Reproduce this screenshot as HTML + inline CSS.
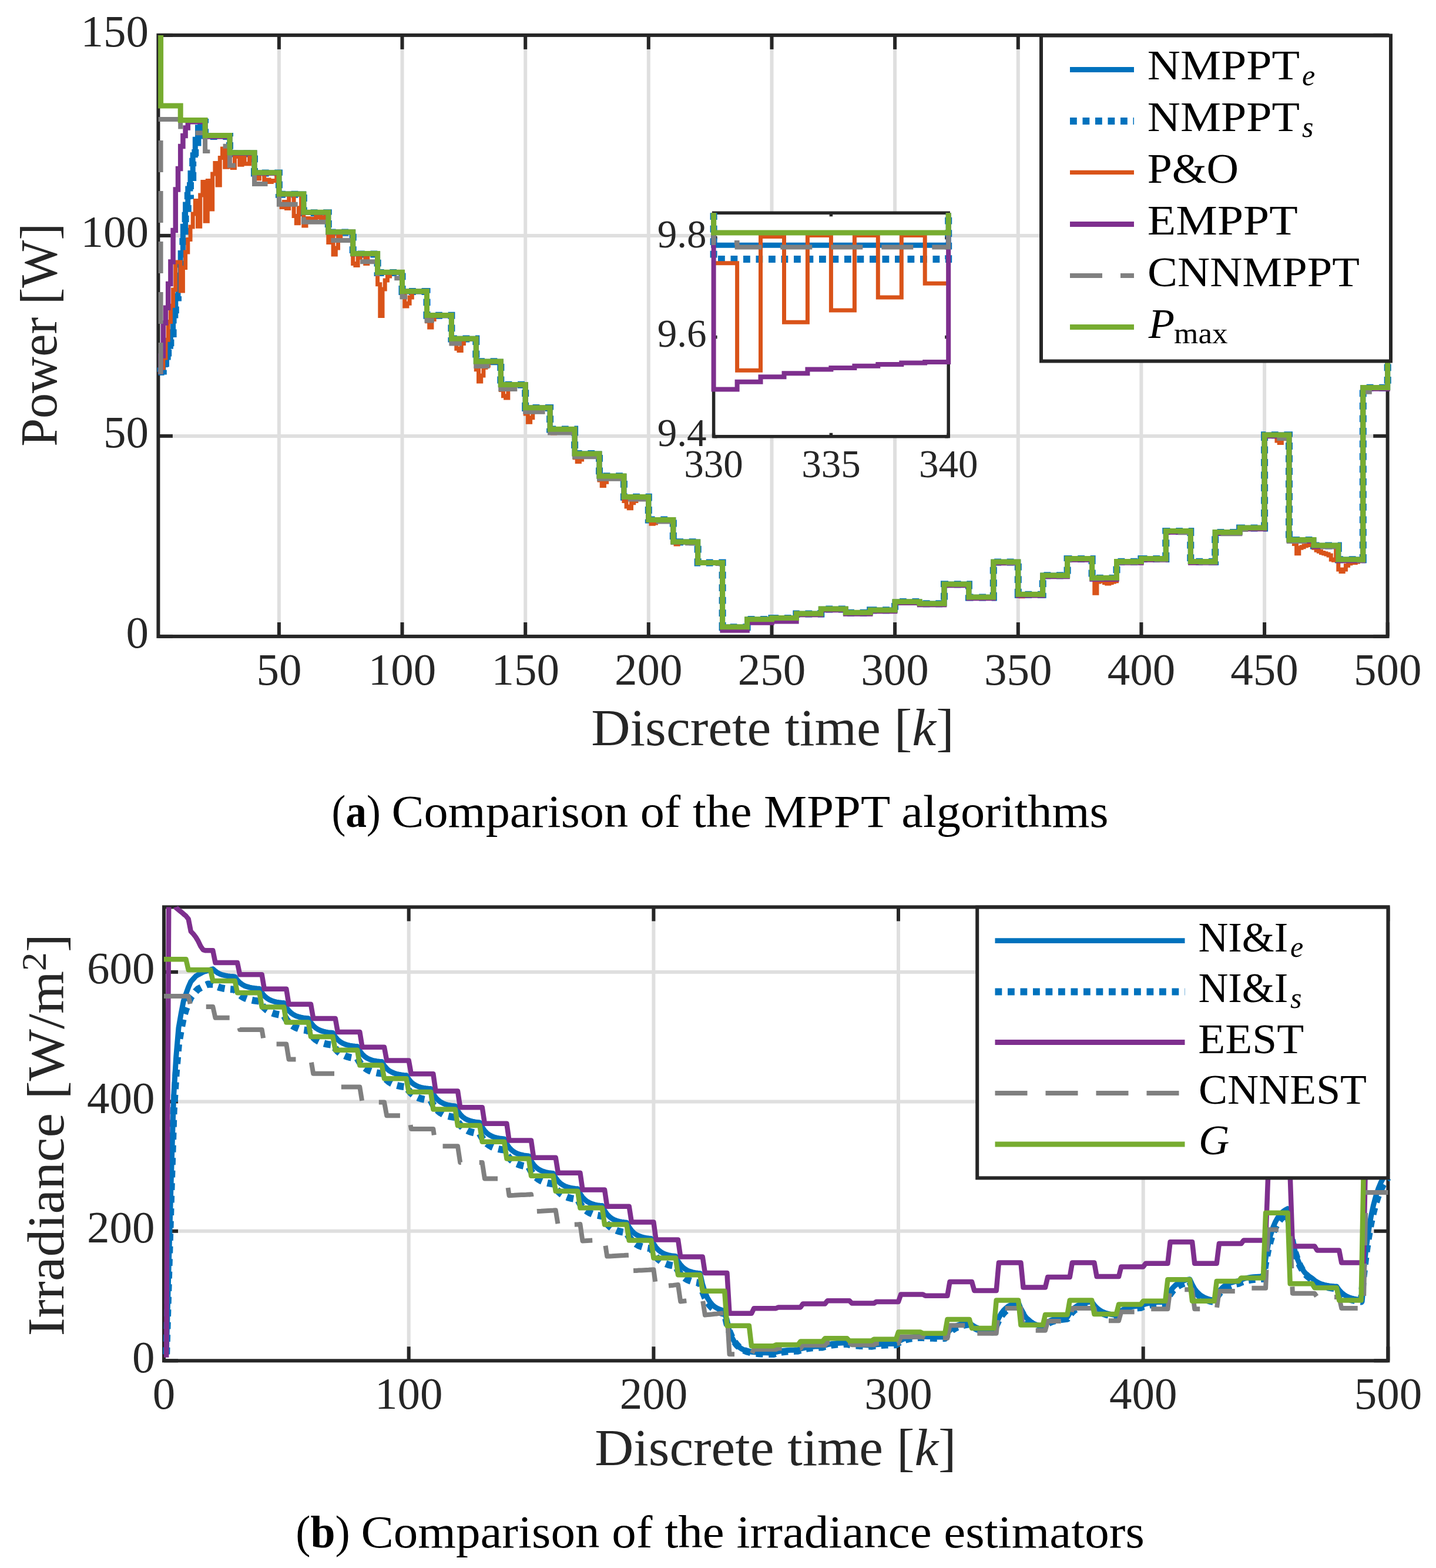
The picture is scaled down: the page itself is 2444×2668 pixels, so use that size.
<!DOCTYPE html>
<html><head><meta charset="utf-8"><title>MPPT comparison figure</title>
<style>html,body{margin:0;padding:0;background:#fff;}svg{display:block;}</style>
</head><body>
<svg width="2444" height="2668" viewBox="0 0 2444 2668">
<rect width="2444" height="2668" fill="#fff"/>
<g stroke="#dfdfdf" stroke-width="6" fill="none">
<line x1="474.9" y1="59.9" x2="474.9" y2="1082.9"/>
<line x1="684.5" y1="59.9" x2="684.5" y2="1082.9"/>
<line x1="894.2" y1="59.9" x2="894.2" y2="1082.9"/>
<line x1="1103.8" y1="59.9" x2="1103.8" y2="1082.9"/>
<line x1="1313.5" y1="59.9" x2="1313.5" y2="1082.9"/>
<line x1="1523.1" y1="59.9" x2="1523.1" y2="1082.9"/>
<line x1="1732.8" y1="59.9" x2="1732.8" y2="1082.9"/>
<line x1="1942.4" y1="59.9" x2="1942.4" y2="1082.9"/>
<line x1="2152.1" y1="59.9" x2="2152.1" y2="1082.9"/>
<line x1="269.4" y1="741.9" x2="2361.7" y2="741.9"/>
<line x1="269.4" y1="400.9" x2="2361.7" y2="400.9"/>
</g>
<g stroke="#262626" stroke-width="6" fill="none">
<line x1="474.9" y1="1082.9" x2="474.9" y2="1058.9"/>
<line x1="474.9" y1="59.9" x2="474.9" y2="83.9"/>
<line x1="684.5" y1="1082.9" x2="684.5" y2="1058.9"/>
<line x1="684.5" y1="59.9" x2="684.5" y2="83.9"/>
<line x1="894.2" y1="1082.9" x2="894.2" y2="1058.9"/>
<line x1="894.2" y1="59.9" x2="894.2" y2="83.9"/>
<line x1="1103.8" y1="1082.9" x2="1103.8" y2="1058.9"/>
<line x1="1103.8" y1="59.9" x2="1103.8" y2="83.9"/>
<line x1="1313.5" y1="1082.9" x2="1313.5" y2="1058.9"/>
<line x1="1313.5" y1="59.9" x2="1313.5" y2="83.9"/>
<line x1="1523.1" y1="1082.9" x2="1523.1" y2="1058.9"/>
<line x1="1523.1" y1="59.9" x2="1523.1" y2="83.9"/>
<line x1="1732.8" y1="1082.9" x2="1732.8" y2="1058.9"/>
<line x1="1732.8" y1="59.9" x2="1732.8" y2="83.9"/>
<line x1="1942.4" y1="1082.9" x2="1942.4" y2="1058.9"/>
<line x1="1942.4" y1="59.9" x2="1942.4" y2="83.9"/>
<line x1="2152.1" y1="1082.9" x2="2152.1" y2="1058.9"/>
<line x1="2152.1" y1="59.9" x2="2152.1" y2="83.9"/>
<line x1="2361.7" y1="1082.9" x2="2361.7" y2="1058.9"/>
<line x1="2361.7" y1="59.9" x2="2361.7" y2="83.9"/>
<line x1="269.4" y1="1082.9" x2="293.9" y2="1082.9"/>
<line x1="2361.7" y1="1082.9" x2="2337.2" y2="1082.9"/>
<line x1="269.4" y1="741.9" x2="293.9" y2="741.9"/>
<line x1="2361.7" y1="741.9" x2="2337.2" y2="741.9"/>
<line x1="269.4" y1="400.9" x2="293.9" y2="400.9"/>
<line x1="2361.7" y1="400.9" x2="2337.2" y2="400.9"/>
<line x1="269.4" y1="59.9" x2="293.9" y2="59.9"/>
<line x1="2361.7" y1="59.9" x2="2337.2" y2="59.9"/>
<rect x="269.4" y="59.9" width="2092.2" height="1023" stroke-linejoin="miter"/>
</g>
<path d="M269.4 632.8L273.6 632.8L273.6 629.4L277.8 629.4L277.8 620.5L282 620.5L282 608.1L286.2 608.1L286.2 589.3L290.4 589.3L290.4 566.2L294.6 566.2L294.6 536.9L298.8 536.9L298.8 503.5L303 503.5L303 468.3L307.2 468.3L307.2 430.4L311.4 430.4L311.4 385.2L315.6 385.2L315.6 347.9L319.8 347.9L319.8 321.1L324 321.1L324 294.4L328.2 294.4L328.2 263.8L332.3 263.8L332.3 237.2L336.5 237.2L336.5 216.8L340.7 216.8L340.7 209.3L344.9 209.3L344.9 205.8L349.1 205.8L349.1 230.6L353.3 230.6L357.5 230.6L361.7 230.6L365.9 230.6L370.1 230.6L374.3 230.6L378.5 230.6L382.7 230.6L386.9 230.6L391 230.6L391 259.9L395.2 259.9L399.4 259.9L403.6 259.9L407.8 259.9L412 259.9L416.2 259.9L420.4 259.9L424.6 259.9L428.8 259.9L433 259.9L433 294L437.2 294L441.4 294L445.6 294L449.7 294L453.9 294L458.1 294L462.3 294L466.5 294L470.7 294L474.9 294L474.9 330.1L479.1 330.1L483.3 330.1L487.5 330.1L491.7 330.1L495.9 330.1L500.1 330.1L504.3 330.1L508.4 330.1L512.6 330.1L516.8 330.1L516.8 361.5L521 361.5L525.2 361.5L529.4 361.5L533.6 361.5L537.8 361.5L542 361.5L546.2 361.5L550.4 361.5L554.6 361.5L558.8 361.5L558.8 394.9L563 394.9L567.1 394.9L571.3 394.9L575.5 394.9L579.7 394.9L583.9 394.9L588.1 394.9L592.3 394.9L596.5 394.9L600.7 394.9L600.7 431.8L604.9 431.8L609.1 431.8L613.3 431.8L617.5 431.8L621.7 431.8L625.8 431.8L630 431.8L634.2 431.8L638.4 431.8L642.6 431.8L642.6 463.5L646.8 463.5L651 463.5L655.2 463.5L659.4 463.5L663.6 463.5L667.8 463.5L672 463.5L676.2 463.5L680.4 463.5L684.5 463.5L684.5 495.9L688.7 495.9L692.9 495.9L697.1 495.9L701.3 495.9L705.5 495.9L709.7 495.9L713.9 495.9L718.1 495.9L722.3 495.9L726.5 495.9L726.5 536.8L730.7 536.8L734.9 536.8L739.1 536.8L743.2 536.8L747.4 536.8L751.6 536.8L755.8 536.8L760 536.8L764.2 536.8L768.4 536.8L768.4 576.3L772.6 576.3L776.8 576.3L781 576.3L785.2 576.3L789.4 576.3L793.6 576.3L797.8 576.3L801.9 576.3L806.1 576.3L810.3 576.3L810.3 615.2L814.5 615.2L818.7 615.2L822.9 615.2L827.1 615.2L831.3 615.2L835.5 615.2L839.7 615.2L843.9 615.2L848.1 615.2L852.3 615.2L852.3 654.8L856.5 654.8L860.6 654.8L864.8 654.8L869 654.8L873.2 654.8L877.4 654.8L881.6 654.8L885.8 654.8L890 654.8L894.2 654.8L894.2 693.9L898.4 693.9L902.6 693.9L906.8 693.9L911 693.9L915.2 693.9L919.3 693.9L923.5 693.9L927.7 693.9L931.9 693.9L936.1 693.9L936.1 730.5L940.3 730.5L944.5 730.5L948.7 730.5L952.9 730.5L957.1 730.5L961.3 730.5L965.5 730.5L969.7 730.5L973.9 730.5L978.1 730.5L978.1 772.1L982.2 772.1L986.4 772.1L990.6 772.1L994.8 772.1L999 772.1L1003.2 772.1L1007.4 772.1L1011.6 772.1L1015.8 772.1L1020 772.1L1020 810.3L1024.2 810.3L1028.4 810.3L1032.6 810.3L1036.8 810.3L1040.9 810.3L1045.1 810.3L1049.3 810.3L1053.5 810.3L1057.7 810.3L1061.9 810.3L1061.9 845.7L1066.1 845.7L1070.3 845.7L1074.5 845.7L1078.7 845.7L1082.9 845.7L1087.1 845.7L1091.3 845.7L1095.5 845.7L1099.6 845.7L1103.8 845.7L1103.8 884.6L1108 884.6L1112.2 884.6L1116.4 884.6L1120.6 884.6L1124.8 884.6L1129 884.6L1133.2 884.6L1137.4 884.6L1141.6 884.6L1145.8 884.6L1145.8 922.1L1150 922.1L1154.2 922.1L1158.3 922.1L1162.5 922.1L1166.7 922.1L1170.9 922.1L1175.1 922.1L1179.3 922.1L1183.5 922.1L1187.7 922.1L1187.7 957.6L1191.9 957.6L1196.1 957.6L1200.3 957.6L1204.5 957.6L1208.7 957.6L1212.9 957.6L1217 957.6L1221.2 957.6L1225.4 957.6L1229.6 957.6L1229.6 1067L1233.8 1067L1238 1067L1242.2 1067L1246.4 1067L1250.6 1067L1254.8 1067L1259 1067L1263.2 1067L1267.4 1067L1271.6 1067L1271.6 1053.9L1275.7 1053.9L1279.9 1053.9L1284.1 1053.9L1288.3 1053.9L1292.5 1053.9L1296.7 1053.9L1300.9 1053.9L1305.1 1053.9L1309.3 1053.9L1313.5 1053.9L1313.5 1051.7L1317.7 1051.7L1321.9 1051.7L1326.1 1051.7L1330.3 1051.7L1334.4 1051.7L1338.6 1051.7L1342.8 1051.7L1347 1051.7L1351.2 1051.7L1355.4 1051.7L1355.4 1044.2L1359.6 1044.2L1363.8 1044.2L1368 1044.2L1372.2 1044.2L1376.4 1044.2L1380.6 1044.2L1384.8 1044.2L1389 1044.2L1393.1 1044.2L1397.3 1044.2L1397.3 1036.2L1401.5 1036.2L1405.7 1036.2L1409.9 1036.2L1414.1 1036.2L1418.3 1036.2L1422.5 1036.2L1426.7 1036.2L1430.9 1036.2L1435.1 1036.2L1439.3 1036.2L1439.3 1042.5L1443.5 1042.5L1447.7 1042.5L1451.8 1042.5L1456 1042.5L1460.2 1042.5L1464.4 1042.5L1468.6 1042.5L1472.8 1042.5L1477 1042.5L1481.2 1042.5L1481.2 1038.1L1485.4 1038.1L1489.6 1038.1L1493.8 1038.1L1498 1038.1L1502.2 1038.1L1506.4 1038.1L1510.5 1038.1L1514.7 1038.1L1518.9 1038.1L1523.1 1038.1L1523.1 1023.9L1527.3 1023.9L1531.5 1023.9L1535.7 1023.9L1539.9 1023.9L1544.1 1023.9L1548.3 1023.9L1552.5 1023.9L1556.7 1023.9L1560.9 1023.9L1565.1 1023.9L1565.1 1027.1L1569.2 1027.1L1573.4 1027.1L1577.6 1027.1L1581.8 1027.1L1586 1027.1L1590.2 1027.1L1594.4 1027.1L1598.6 1027.1L1602.8 1027.1L1607 1027.1L1607 994.1L1611.2 994.1L1615.4 994.1L1619.6 994.1L1623.8 994.1L1627.9 994.1L1632.1 994.1L1636.3 994.1L1640.5 994.1L1644.7 994.1L1648.9 994.1L1648.9 1016.2L1653.1 1016.2L1657.3 1016.2L1661.5 1016.2L1665.7 1016.2L1669.9 1016.2L1674.1 1016.2L1678.3 1016.2L1682.5 1016.2L1686.7 1016.2L1690.8 1016.2L1690.8 956.2L1695 956.2L1699.2 956.2L1703.4 956.2L1707.6 956.2L1711.8 956.2L1716 956.2L1720.2 956.2L1724.4 956.2L1728.6 956.2L1732.8 956.2L1732.8 1011.5L1737 1011.5L1741.2 1011.5L1745.4 1011.5L1749.5 1011.5L1753.7 1011.5L1757.9 1011.5L1762.1 1011.5L1766.3 1011.5L1770.5 1011.5L1774.7 1011.5L1774.7 979.1L1778.9 979.1L1783.1 979.1L1787.3 979.1L1791.5 979.1L1795.7 979.1L1799.9 979.1L1804.1 979.1L1808.2 979.1L1812.4 979.1L1816.6 979.1L1816.6 950.8L1820.8 950.8L1825 950.8L1829.2 950.8L1833.4 950.8L1837.6 950.8L1841.8 950.8L1846 950.8L1850.2 950.8L1854.4 950.8L1858.6 950.8L1858.6 983.5L1862.8 983.5L1866.9 983.5L1871.1 983.5L1875.3 983.5L1879.5 983.5L1883.7 983.5L1887.9 983.5L1892.1 983.5L1896.3 983.5L1900.5 983.5L1900.5 955.5L1904.7 955.5L1908.9 955.5L1913.1 955.5L1917.3 955.5L1921.5 955.5L1925.6 955.5L1929.8 955.5L1934 955.5L1938.2 955.5L1942.4 955.5L1942.4 950.8L1946.6 950.8L1950.8 950.8L1955 950.8L1959.2 950.8L1963.4 950.8L1967.6 950.8L1971.8 950.8L1976 950.8L1980.2 950.8L1984.3 950.8L1984.3 903.7L1988.5 903.7L1992.7 903.7L1996.9 903.7L2001.1 903.7L2005.3 903.7L2009.5 903.7L2013.7 903.7L2017.9 903.7L2022.1 903.7L2026.3 903.7L2026.3 955.5L2030.5 955.5L2034.7 955.5L2038.9 955.5L2043 955.5L2047.2 955.5L2051.4 955.5L2055.6 955.5L2059.8 955.5L2064 955.5L2068.2 955.5L2068.2 905.8L2072.4 905.8L2076.6 905.8L2080.8 905.8L2085 905.8L2089.2 905.8L2093.4 905.8L2097.6 905.8L2101.7 905.8L2105.9 905.8L2110.1 905.8L2110.1 898.2L2114.3 898.2L2118.5 898.2L2122.7 898.2L2126.9 898.2L2131.1 898.2L2135.3 898.2L2139.5 898.2L2143.7 898.2L2147.9 898.2L2152.1 898.2L2152.1 740L2156.3 740L2160.4 740L2164.6 740L2168.8 740L2173 740L2177.2 740L2181.4 740L2185.6 740L2189.8 740L2194 740L2194 918.7L2198.2 918.7L2202.4 918.7L2206.6 918.7L2210.8 918.7L2215 918.7L2219.1 918.7L2223.3 918.7L2227.5 918.7L2231.7 918.7L2235.9 918.7L2235.9 928.3L2240.1 928.3L2244.3 928.3L2248.5 928.3L2252.7 928.3L2256.9 928.3L2261.1 928.3L2265.3 928.3L2269.5 928.3L2273.7 928.3L2277.8 928.3L2277.8 952.1L2282 952.1L2286.2 952.1L2290.4 952.1L2294.6 952.1L2298.8 952.1L2303 952.1L2307.2 952.1L2311.4 952.1L2315.6 952.1L2319.8 952.1L2319.8 659.5L2324 659.5L2328.2 659.5L2332.4 659.5L2336.5 659.5L2340.7 659.5L2344.9 659.5L2349.1 659.5L2353.3 659.5L2357.5 659.5L2361.7 659.5L2361.7 537.5" stroke="#0072BD" stroke-width="9" fill="none" stroke-linejoin="miter" stroke-linecap="butt"/>
<path d="M269.4 632.8L273.6 632.8L273.6 631.4L277.8 631.4L277.8 624.6L282 624.6L282 608.9L286.2 608.9L286.2 591.9L290.4 591.9L290.4 568L294.6 568L294.6 537.3L298.8 537.3L298.8 506.6L303 506.6L303 472.5L307.2 472.5L307.2 438.4L311.4 438.4L311.4 400.9L315.6 400.9L315.6 366.8L319.8 366.8L319.8 332.7L324 332.7L324 302L328.2 302L328.2 274.7L332.3 274.7L332.3 250.9L336.5 250.9L336.5 230.4L340.7 230.4L340.7 214.7L344.9 214.7L344.9 207.9L349.1 207.9L349.1 232.1L353.3 232.1L357.5 232.1L361.7 232.1L365.9 232.1L370.1 232.1L374.3 232.1L378.5 232.1L382.7 232.1L386.9 232.1L391 232.1L391 261.4L395.2 261.4L399.4 261.4L403.6 261.4L407.8 261.4L412 261.4L416.2 261.4L420.4 261.4L424.6 261.4L428.8 261.4L433 261.4L433 294.6L437.2 294.6L441.4 294.6L445.6 294.6L449.7 294.6L453.9 294.6L458.1 294.6L462.3 294.6L466.5 294.6L470.7 294.6L474.9 294.6L474.9 330.8L479.1 330.8L483.3 330.8L487.5 330.8L491.7 330.8L495.9 330.8L500.1 330.8L504.3 330.8L508.4 330.8L512.6 330.8L516.8 330.8L516.8 362.2L521 362.2L525.2 362.2L529.4 362.2L533.6 362.2L537.8 362.2L542 362.2L546.2 362.2L550.4 362.2L554.6 362.2L558.8 362.2L558.8 395.6L563 395.6L567.1 395.6L571.3 395.6L575.5 395.6L579.7 395.6L583.9 395.6L588.1 395.6L592.3 395.6L596.5 395.6L600.7 395.6L600.7 432.4L604.9 432.4L609.1 432.4L613.3 432.4L617.5 432.4L621.7 432.4L625.8 432.4L630 432.4L634.2 432.4L638.4 432.4L642.6 432.4L642.6 464.1L646.8 464.1L651 464.1L655.2 464.1L659.4 464.1L663.6 464.1L667.8 464.1L672 464.1L676.2 464.1L680.4 464.1L684.5 464.1L684.5 495.9L688.7 495.9L692.9 495.9L697.1 495.9L701.3 495.9L705.5 495.9L709.7 495.9L713.9 495.9L718.1 495.9L722.3 495.9L726.5 495.9L726.5 536.8L730.7 536.8L734.9 536.8L739.1 536.8L743.2 536.8L747.4 536.8L751.6 536.8L755.8 536.8L760 536.8L764.2 536.8L768.4 536.8L768.4 576.4L772.6 576.4L776.8 576.4L781 576.4L785.2 576.4L789.4 576.4L793.6 576.4L797.8 576.4L801.9 576.4L806.1 576.4L810.3 576.4L810.3 615.3L814.5 615.3L818.7 615.3L822.9 615.3L827.1 615.3L831.3 615.3L835.5 615.3L839.7 615.3L843.9 615.3L848.1 615.3L852.3 615.3L852.3 654.8L856.5 654.8L860.6 654.8L864.8 654.8L869 654.8L873.2 654.8L877.4 654.8L881.6 654.8L885.8 654.8L890 654.8L894.2 654.8L894.2 693.9L898.4 693.9L902.6 693.9L906.8 693.9L911 693.9L915.2 693.9L919.3 693.9L923.5 693.9L927.7 693.9L931.9 693.9L936.1 693.9L936.1 730.5L940.3 730.5L944.5 730.5L948.7 730.5L952.9 730.5L957.1 730.5L961.3 730.5L965.5 730.5L969.7 730.5L973.9 730.5L978.1 730.5L978.1 772.1L982.2 772.1L986.4 772.1L990.6 772.1L994.8 772.1L999 772.1L1003.2 772.1L1007.4 772.1L1011.6 772.1L1015.8 772.1L1020 772.1L1020 810.3L1024.2 810.3L1028.4 810.3L1032.6 810.3L1036.8 810.3L1040.9 810.3L1045.1 810.3L1049.3 810.3L1053.5 810.3L1057.7 810.3L1061.9 810.3L1061.9 845.8L1066.1 845.8L1070.3 845.8L1074.5 845.8L1078.7 845.8L1082.9 845.8L1087.1 845.8L1091.3 845.8L1095.5 845.8L1099.6 845.8L1103.8 845.8L1103.8 884.6L1108 884.6L1112.2 884.6L1116.4 884.6L1120.6 884.6L1124.8 884.6L1129 884.6L1133.2 884.6L1137.4 884.6L1141.6 884.6L1145.8 884.6L1145.8 922.2L1150 922.2L1154.2 922.2L1158.3 922.2L1162.5 922.2L1166.7 922.2L1170.9 922.2L1175.1 922.2L1179.3 922.2L1183.5 922.2L1187.7 922.2L1187.7 957.6L1191.9 957.6L1196.1 957.6L1200.3 957.6L1204.5 957.6L1208.7 957.6L1212.9 957.6L1217 957.6L1221.2 957.6L1225.4 957.6L1229.6 957.6L1229.6 1067.2L1233.8 1067.2L1238 1067.2L1242.2 1067.2L1246.4 1067.2L1250.6 1067.2L1254.8 1067.2L1259 1067.2L1263.2 1067.2L1267.4 1067.2L1271.6 1067.2L1271.6 1054.1L1275.7 1054.1L1279.9 1054.1L1284.1 1054.1L1288.3 1054.1L1292.5 1054.1L1296.7 1054.1L1300.9 1054.1L1305.1 1054.1L1309.3 1054.1L1313.5 1054.1L1313.5 1051.9L1317.7 1051.9L1321.9 1051.9L1326.1 1051.9L1330.3 1051.9L1334.4 1051.9L1338.6 1051.9L1342.8 1051.9L1347 1051.9L1351.2 1051.9L1355.4 1051.9L1355.4 1044.4L1359.6 1044.4L1363.8 1044.4L1368 1044.4L1372.2 1044.4L1376.4 1044.4L1380.6 1044.4L1384.8 1044.4L1389 1044.4L1393.1 1044.4L1397.3 1044.4L1397.3 1036.4L1401.5 1036.4L1405.7 1036.4L1409.9 1036.4L1414.1 1036.4L1418.3 1036.4L1422.5 1036.4L1426.7 1036.4L1430.9 1036.4L1435.1 1036.4L1439.3 1036.4L1439.3 1042.7L1443.5 1042.7L1447.7 1042.7L1451.8 1042.7L1456 1042.7L1460.2 1042.7L1464.4 1042.7L1468.6 1042.7L1472.8 1042.7L1477 1042.7L1481.2 1042.7L1481.2 1038.2L1485.4 1038.2L1489.6 1038.2L1493.8 1038.2L1498 1038.2L1502.2 1038.2L1506.4 1038.2L1510.5 1038.2L1514.7 1038.2L1518.9 1038.2L1523.1 1038.2L1523.1 1024.1L1527.3 1024.1L1531.5 1024.1L1535.7 1024.1L1539.9 1024.1L1544.1 1024.1L1548.3 1024.1L1552.5 1024.1L1556.7 1024.1L1560.9 1024.1L1565.1 1024.1L1565.1 1027.3L1569.2 1027.3L1573.4 1027.3L1577.6 1027.3L1581.8 1027.3L1586 1027.3L1590.2 1027.3L1594.4 1027.3L1598.6 1027.3L1602.8 1027.3L1607 1027.3L1607 994.3L1611.2 994.3L1615.4 994.3L1619.6 994.3L1623.8 994.3L1627.9 994.3L1632.1 994.3L1636.3 994.3L1640.5 994.3L1644.7 994.3L1648.9 994.3L1648.9 1016.4L1653.1 1016.4L1657.3 1016.4L1661.5 1016.4L1665.7 1016.4L1669.9 1016.4L1674.1 1016.4L1678.3 1016.4L1682.5 1016.4L1686.7 1016.4L1690.8 1016.4L1690.8 956.4L1695 956.4L1699.2 956.4L1703.4 956.4L1707.6 956.4L1711.8 956.4L1716 956.4L1720.2 956.4L1724.4 956.4L1728.6 956.4L1732.8 956.4L1732.8 1011.7L1737 1011.7L1741.2 1011.7L1745.4 1011.7L1749.5 1011.7L1753.7 1011.7L1757.9 1011.7L1762.1 1011.7L1766.3 1011.7L1770.5 1011.7L1774.7 1011.7L1774.7 979.3L1778.9 979.3L1783.1 979.3L1787.3 979.3L1791.5 979.3L1795.7 979.3L1799.9 979.3L1804.1 979.3L1808.2 979.3L1812.4 979.3L1816.6 979.3L1816.6 951L1820.8 951L1825 951L1829.2 951L1833.4 951L1837.6 951L1841.8 951L1846 951L1850.2 951L1854.4 951L1858.6 951L1858.6 983.7L1862.8 983.7L1866.9 983.7L1871.1 983.7L1875.3 983.7L1879.5 983.7L1883.7 983.7L1887.9 983.7L1892.1 983.7L1896.3 983.7L1900.5 983.7L1900.5 955.7L1904.7 955.7L1908.9 955.7L1913.1 955.7L1917.3 955.7L1921.5 955.7L1925.6 955.7L1929.8 955.7L1934 955.7L1938.2 955.7L1942.4 955.7L1942.4 951L1946.6 951L1950.8 951L1955 951L1959.2 951L1963.4 951L1967.6 951L1971.8 951L1976 951L1980.2 951L1984.3 951L1984.3 903.9L1988.5 903.9L1992.7 903.9L1996.9 903.9L2001.1 903.9L2005.3 903.9L2009.5 903.9L2013.7 903.9L2017.9 903.9L2022.1 903.9L2026.3 903.9L2026.3 955.7L2030.5 955.7L2034.7 955.7L2038.9 955.7L2043 955.7L2047.2 955.7L2051.4 955.7L2055.6 955.7L2059.8 955.7L2064 955.7L2068.2 955.7L2068.2 905.9L2072.4 905.9L2076.6 905.9L2080.8 905.9L2085 905.9L2089.2 905.9L2093.4 905.9L2097.6 905.9L2101.7 905.9L2105.9 905.9L2110.1 905.9L2110.1 898.4L2114.3 898.4L2118.5 898.4L2122.7 898.4L2126.9 898.4L2131.1 898.4L2135.3 898.4L2139.5 898.4L2143.7 898.4L2147.9 898.4L2152.1 898.4L2152.1 740.2L2156.3 740.2L2160.4 740.2L2164.6 740.2L2168.8 740.2L2173 740.2L2177.2 740.2L2181.4 740.2L2185.6 740.2L2189.8 740.2L2194 740.2L2194 918.9L2198.2 918.9L2202.4 918.9L2206.6 918.9L2210.8 918.9L2215 918.9L2219.1 918.9L2223.3 918.9L2227.5 918.9L2231.7 918.9L2235.9 918.9L2235.9 928.4L2240.1 928.4L2244.3 928.4L2248.5 928.4L2252.7 928.4L2256.9 928.4L2261.1 928.4L2265.3 928.4L2269.5 928.4L2273.7 928.4L2277.8 928.4L2277.8 952.3L2282 952.3L2286.2 952.3L2290.4 952.3L2294.6 952.3L2298.8 952.3L2303 952.3L2307.2 952.3L2311.4 952.3L2315.6 952.3L2319.8 952.3L2319.8 659.7L2324 659.7L2328.2 659.7L2332.4 659.7L2336.5 659.7L2340.7 659.7L2344.9 659.7L2349.1 659.7L2353.3 659.7L2357.5 659.7L2361.7 659.7L2361.7 537.7" stroke="#0072BD" stroke-width="12" fill="none" stroke-linejoin="miter" stroke-linecap="butt" stroke-dasharray="11.8 9.7"/>
<path d="M269.4 632.8L273.6 632.8L273.6 626L277.8 626L277.8 608.9L282 608.9L282 578.2L286.2 578.2L286.2 547.5L290.4 547.5L290.4 520.3L294.6 520.3L294.6 493L298.8 493L298.8 445.9L303 445.9L307.2 445.9L307.2 495L311.4 495L311.4 455.5L315.6 455.5L315.6 428.9L319.8 428.9L319.8 407.4L324 407.4L324 385.9L328.2 385.9L328.2 364.1L332.3 364.1L332.3 341.6L336.5 341.6L336.5 385.2L340.7 385.2L340.7 332L344.9 332L344.9 309.5L349.1 309.5L349.1 376.3L353.3 376.3L353.3 307.5L357.5 307.5L357.5 355.9L361.7 355.9L361.7 295.9L365.9 295.9L365.9 277.5L370.1 277.5L370.1 315L374.3 315L374.3 268.6L378.5 268.6L378.5 252.9L382.7 252.9L382.7 284.3L386.9 284.3L386.9 254.3L391 254.3L391 283.6L395.2 283.6L395.2 285.6L399.4 285.6L399.4 266.5L403.6 266.5L403.6 265.9L407.8 265.9L407.8 280.2L412 280.2L412 266.5L416.2 266.5L416.2 278.8L420.4 278.8L424.6 278.8L424.6 266.5L428.8 266.5L428.8 260.1L433 260.1L433 294.2L437.2 294.2L437.2 304.1L441.4 304.1L441.4 294.2L445.6 294.2L449.7 294.2L449.7 307.5L453.9 307.5L453.9 306.1L458.1 306.1L458.1 309.5L462.3 309.5L462.3 307.5L466.5 307.5L470.7 307.5L470.7 294.2L474.9 294.2L474.9 347L479.1 347L479.1 352.5L483.3 352.5L483.3 343.6L487.5 343.6L487.5 354.5L491.7 354.5L491.7 330.3L495.9 330.3L500.1 330.3L500.1 367.5L504.3 367.5L504.3 379.8L508.4 379.8L508.4 353.8L512.6 353.8L512.6 330.3L516.8 330.3L516.8 383.9L521 383.9L521 371.6L525.2 371.6L525.2 372.3L529.4 372.3L533.6 372.3L537.8 372.3L537.8 368.2L542 368.2L542 369.5L546.2 369.5L546.2 371.6L550.4 371.6L550.4 370.2L554.6 370.2L554.6 361.7L558.8 361.7L558.8 412.5L563 412.5L563 398.9L567.1 398.9L567.1 433L571.3 433L571.3 422L575.5 422L575.5 401.6L579.7 401.6L579.7 395.1L583.9 395.1L588.1 395.1L592.3 395.1L596.5 395.1L600.7 395.1L600.7 448.6L604.9 448.6L604.9 451.4L609.1 451.4L609.1 438.4L613.3 438.4L613.3 431.9L617.5 431.9L621.7 431.9L621.7 448.6L625.8 448.6L625.8 431.9L630 431.9L634.2 431.9L638.4 431.9L642.6 431.9L642.6 483.8L646.8 483.8L646.8 537.6L651 537.6L651 491.9L655.2 491.9L655.2 476.9L659.4 476.9L659.4 470.1L663.6 470.1L663.6 463.6L667.8 463.6L672 463.6L676.2 463.6L680.4 463.6L684.5 463.6L684.5 496L688.7 496L688.7 520.9L692.9 520.9L692.9 516.2L697.1 516.2L697.1 505.9L701.3 505.9L701.3 496L705.5 496L709.7 496L713.9 496L718.1 496L722.3 496L726.5 496L726.5 546.8L730.7 546.8L730.7 557.1L734.9 557.1L734.9 543.4L739.1 543.4L739.1 537L743.2 537L747.4 537L751.6 537L755.8 537L760 537L764.2 537L768.4 537L768.4 583L772.6 583L772.6 576.5L776.8 576.5L776.8 593.2L781 593.2L781 596.6L785.2 596.6L785.2 584.4L789.4 584.4L789.4 576.5L793.6 576.5L797.8 576.5L801.9 576.5L806.1 576.5L810.3 576.5L810.3 628.7L814.5 628.7L814.5 649.1L818.7 649.1L818.7 638.9L822.9 638.9L822.9 625.3L827.1 625.3L827.1 621.9L831.3 621.9L831.3 615.4L835.5 615.4L839.7 615.4L843.9 615.4L848.1 615.4L852.3 615.4L852.3 663.5L856.5 663.5L856.5 673.7L860.6 673.7L860.6 677.1L864.8 677.1L864.8 661.4L869 661.4L869 654.9L873.2 654.9L877.4 654.9L881.6 654.9L885.8 654.9L890 654.9L894.2 654.9L894.2 703.9L898.4 703.9L898.4 718.2L902.6 718.2L902.6 710.7L906.8 710.7L906.8 700.5L911 700.5L911 694L915.2 694L919.3 694L923.5 694L927.7 694L931.9 694L936.1 694L936.1 730.6L940.3 730.6L940.3 737.1L944.5 737.1L944.5 730.6L948.7 730.6L952.9 730.6L957.1 730.6L961.3 730.6L965.5 730.6L969.7 730.6L973.9 730.6L978.1 730.6L978.1 778.7L982.2 778.7L982.2 785.5L986.4 785.5L986.4 782.1L990.6 782.1L990.6 772.2L994.8 772.2L999 772.2L1003.2 772.2L1007.4 772.2L1011.6 772.2L1015.8 772.2L1020 772.2L1020 816.9L1024.2 816.9L1024.2 826.5L1028.4 826.5L1028.4 820.3L1032.6 820.3L1032.6 810.4L1036.8 810.4L1040.9 810.4L1045.1 810.4L1049.3 810.4L1053.5 810.4L1057.7 810.4L1061.9 810.4L1061.9 852.4L1066.1 852.4L1066.1 861.9L1070.3 861.9L1070.3 864.7L1074.5 864.7L1074.5 855.8L1078.7 855.8L1078.7 852.4L1082.9 852.4L1082.9 845.9L1087.1 845.9L1091.3 845.9L1095.5 845.9L1099.6 845.9L1103.8 845.9L1103.8 884.8L1108 884.8L1108 891.3L1112.2 891.3L1112.2 889.9L1116.4 889.9L1116.4 884.8L1120.6 884.8L1124.8 884.8L1129 884.8L1133.2 884.8L1137.4 884.8L1141.6 884.8L1145.8 884.8L1145.8 922.3L1150 922.3L1150 926L1154.2 926L1154.2 922.3L1158.3 922.3L1162.5 922.3L1166.7 922.3L1170.9 922.3L1175.1 922.3L1179.3 922.3L1183.5 922.3L1187.7 922.3L1187.7 957.8L1191.9 957.8L1196.1 957.8L1200.3 957.8L1204.5 957.8L1208.7 957.8L1212.9 957.8L1217 957.8L1221.2 957.8L1225.4 957.8L1229.6 957.8L1229.6 1067.1L1233.8 1067.1L1238 1067.1L1242.2 1067.1L1246.4 1067.1L1250.6 1067.1L1254.8 1067.1L1259 1067.1L1263.2 1067.1L1267.4 1067.1L1271.6 1067.1L1271.6 1054.1L1275.7 1054.1L1279.9 1054.1L1284.1 1054.1L1288.3 1054.1L1292.5 1054.1L1296.7 1054.1L1300.9 1054.1L1305.1 1054.1L1309.3 1054.1L1313.5 1054.1L1313.5 1051.9L1317.7 1051.9L1321.9 1051.9L1326.1 1051.9L1330.3 1051.9L1334.4 1051.9L1338.6 1051.9L1342.8 1051.9L1347 1051.9L1351.2 1051.9L1355.4 1051.9L1355.4 1044.4L1359.6 1044.4L1363.8 1044.4L1368 1044.4L1372.2 1044.4L1376.4 1044.4L1380.6 1044.4L1384.8 1044.4L1389 1044.4L1393.1 1044.4L1397.3 1044.4L1397.3 1036.4L1401.5 1036.4L1405.7 1036.4L1409.9 1036.4L1414.1 1036.4L1418.3 1036.4L1422.5 1036.4L1426.7 1036.4L1430.9 1036.4L1435.1 1036.4L1439.3 1036.4L1439.3 1042.7L1443.5 1042.7L1447.7 1042.7L1451.8 1042.7L1456 1042.7L1460.2 1042.7L1464.4 1042.7L1468.6 1042.7L1472.8 1042.7L1477 1042.7L1481.2 1042.7L1481.2 1038.2L1485.4 1038.2L1489.6 1038.2L1493.8 1038.2L1498 1038.2L1502.2 1038.2L1506.4 1038.2L1510.5 1038.2L1514.7 1038.2L1518.9 1038.2L1523.1 1038.2L1523.1 1024.1L1527.3 1024.1L1531.5 1024.1L1535.7 1024.1L1539.9 1024.1L1544.1 1024.1L1548.3 1024.1L1552.5 1024.1L1556.7 1024.1L1560.9 1024.1L1565.1 1024.1L1565.1 1027.3L1569.2 1027.3L1573.4 1027.3L1577.6 1027.3L1581.8 1027.3L1586 1027.3L1590.2 1027.3L1594.4 1027.3L1598.6 1027.3L1602.8 1027.3L1607 1027.3L1607 994.2L1611.2 994.2L1615.4 994.2L1619.6 994.2L1623.8 994.2L1627.9 994.2L1632.1 994.2L1636.3 994.2L1640.5 994.2L1644.7 994.2L1648.9 994.2L1648.9 1016.3L1653.1 1016.3L1657.3 1016.3L1661.5 1016.3L1665.7 1016.3L1669.9 1016.3L1674.1 1016.3L1678.3 1016.3L1682.5 1016.3L1686.7 1016.3L1690.8 1016.3L1690.8 956.4L1695 956.4L1699.2 956.4L1703.4 956.4L1707.6 956.4L1711.8 956.4L1716 956.4L1720.2 956.4L1724.4 956.4L1728.6 956.4L1732.8 956.4L1732.8 1011.6L1737 1011.6L1737 1014.7L1741.2 1014.7L1741.2 1011.6L1745.4 1011.6L1749.5 1011.6L1753.7 1011.6L1757.9 1011.6L1762.1 1011.6L1766.3 1011.6L1770.5 1011.6L1774.7 1011.6L1774.7 979.2L1778.9 979.2L1783.1 979.2L1787.3 979.2L1791.5 979.2L1795.7 979.2L1799.9 979.2L1804.1 979.2L1808.2 979.2L1812.4 979.2L1816.6 979.2L1816.6 950.9L1820.8 950.9L1825 950.9L1829.2 950.9L1833.4 950.9L1837.6 950.9L1841.8 950.9L1846 950.9L1850.2 950.9L1854.4 950.9L1858.6 950.9L1858.6 983.7L1862.8 983.7L1862.8 1009.2L1866.9 1009.2L1866.9 990.1L1871.1 990.1L1871.1 987.4L1875.3 987.4L1875.3 988.8L1879.5 988.8L1879.5 991.5L1883.7 991.5L1883.7 992.9L1887.9 992.9L1887.9 991.5L1892.1 991.5L1892.1 990.1L1896.3 990.1L1896.3 988.8L1900.5 988.8L1900.5 955.7L1904.7 955.7L1908.9 955.7L1913.1 955.7L1917.3 955.7L1921.5 955.7L1925.6 955.7L1929.8 955.7L1934 955.7L1938.2 955.7L1942.4 955.7L1942.4 950.9L1946.6 950.9L1950.8 950.9L1955 950.9L1959.2 950.9L1963.4 950.9L1967.6 950.9L1971.8 950.9L1976 950.9L1980.2 950.9L1984.3 950.9L1984.3 903.9L1988.5 903.9L1992.7 903.9L1996.9 903.9L2001.1 903.9L2005.3 903.9L2009.5 903.9L2013.7 903.9L2017.9 903.9L2022.1 903.9L2026.3 903.9L2026.3 955.7L2030.5 955.7L2034.7 955.7L2038.9 955.7L2043 955.7L2047.2 955.7L2051.4 955.7L2055.6 955.7L2059.8 955.7L2064 955.7L2068.2 955.7L2068.2 905.9L2072.4 905.9L2076.6 905.9L2080.8 905.9L2085 905.9L2089.2 905.9L2093.4 905.9L2097.6 905.9L2101.7 905.9L2105.9 905.9L2110.1 905.9L2110.1 898.4L2114.3 898.4L2118.5 898.4L2122.7 898.4L2126.9 898.4L2131.1 898.4L2135.3 898.4L2139.5 898.4L2143.7 898.4L2147.9 898.4L2152.1 898.4L2152.1 740.2L2156.3 740.2L2160.4 740.2L2164.6 740.2L2168.8 740.2L2173 740.2L2173 750.1L2177.2 750.1L2177.2 753.5L2181.4 753.5L2181.4 746.7L2185.6 746.7L2185.6 740.2L2189.8 740.2L2194 740.2L2194 918.9L2198.2 918.9L2202.4 918.9L2202.4 925.4L2206.6 925.4L2206.6 941.7L2210.8 941.7L2210.8 932.2L2215 932.2L2215 930.8L2219.1 930.8L2219.1 928.8L2223.3 928.8L2223.3 927.4L2227.5 927.4L2227.5 925.4L2231.7 925.4L2231.7 918.9L2235.9 918.9L2235.9 932.2L2240.1 932.2L2240.1 936.3L2244.3 936.3L2244.3 938.3L2248.5 938.3L2248.5 940.4L2252.7 940.4L2252.7 941.7L2256.9 941.7L2256.9 943.1L2261.1 943.1L2261.1 945.1L2265.3 945.1L2265.3 952L2269.5 952L2269.5 953.3L2273.7 953.3L2273.7 928.4L2277.8 928.4L2277.8 969L2282 969L2282 972.4L2286.2 972.4L2286.2 969L2290.4 969L2290.4 962.2L2294.6 962.2L2294.6 958.8L2298.8 958.8L2298.8 956L2303 956L2303 957.4L2307.2 957.4L2307.2 956L2311.4 956L2311.4 952.3L2315.6 952.3L2319.8 952.3L2319.8 659.7L2324 659.7L2324 664.8L2328.2 664.8L2328.2 659.7L2332.4 659.7L2336.5 659.7L2340.7 659.7L2344.9 659.7L2349.1 659.7L2353.3 659.7L2357.5 659.7L2361.7 659.7L2361.7 537.6" stroke="#D95319" stroke-width="7" fill="none" stroke-linejoin="miter" stroke-linecap="butt"/>
<path d="M269.4 632.8L273.6 632.8L273.6 605.5L277.8 605.5L277.8 549.6L282 549.6L282 523.7L286.2 523.7L286.2 482.9L290.4 482.9L290.4 445.6L294.6 445.6L294.6 392L298.8 392L298.8 322.5L303 322.5L303 287.1L307.2 287.1L307.2 249.1L311.4 249.1L311.4 231L315.6 231L315.6 217.4L319.8 217.4L319.8 207.2L324 207.2L328.2 207.2L332.3 207.2L336.5 207.2L340.7 207.2L344.9 207.2L349.1 207.2L349.1 232.4L353.3 232.4L357.5 232.4L361.7 232.4L365.9 232.4L370.1 232.4L374.3 232.4L378.5 232.4L382.7 232.4L386.9 232.4L391 232.4L391 260.7L395.2 260.7L399.4 260.7L403.6 260.7L407.8 260.7L412 260.7L416.2 260.7L420.4 260.7L424.6 260.7L428.8 260.7L433 260.7L433 294.8L437.2 294.8L441.4 294.8L445.6 294.8L449.7 294.8L453.9 294.8L458.1 294.8L462.3 294.8L466.5 294.8L470.7 294.8L474.9 294.8L474.9 330.3L479.1 330.3L483.3 330.3L487.5 330.3L491.7 330.3L495.9 330.3L500.1 330.3L504.3 330.3L508.4 330.3L512.6 330.3L516.8 330.3L516.8 361.7L521 361.7L525.2 361.7L529.4 361.7L533.6 361.7L537.8 361.7L542 361.7L546.2 361.7L550.4 361.7L554.6 361.7L558.8 361.7L558.8 395.1L563 395.1L567.1 395.1L571.3 395.1L575.5 395.1L579.7 395.1L583.9 395.1L588.1 395.1L592.3 395.1L596.5 395.1L600.7 395.1L600.7 431.9L604.9 431.9L609.1 431.9L613.3 431.9L617.5 431.9L621.7 431.9L625.8 431.9L630 431.9L634.2 431.9L638.4 431.9L642.6 431.9L642.6 463.6L646.8 463.6L651 463.6L655.2 463.6L659.4 463.6L663.6 463.6L667.8 463.6L672 463.6L676.2 463.6L680.4 463.6L684.5 463.6L684.5 496L688.7 496L692.9 496L697.1 496L701.3 496L705.5 496L709.7 496L713.9 496L718.1 496L722.3 496L726.5 496L726.5 537L730.7 537L734.9 537L739.1 537L743.2 537L747.4 537L751.6 537L755.8 537L760 537L764.2 537L768.4 537L768.4 576.5L772.6 576.5L776.8 576.5L781 576.5L785.2 576.5L789.4 576.5L793.6 576.5L797.8 576.5L801.9 576.5L806.1 576.5L810.3 576.5L810.3 615.4L814.5 615.4L818.7 615.4L822.9 615.4L827.1 615.4L831.3 615.4L835.5 615.4L839.7 615.4L843.9 615.4L848.1 615.4L852.3 615.4L852.3 654.9L856.5 654.9L860.6 654.9L864.8 654.9L869 654.9L873.2 654.9L877.4 654.9L881.6 654.9L885.8 654.9L890 654.9L894.2 654.9L894.2 694L898.4 694L902.6 694L906.8 694L911 694L915.2 694L919.3 694L923.5 694L927.7 694L931.9 694L936.1 694L936.1 730.6L940.3 730.6L944.5 730.6L948.7 730.6L952.9 730.6L957.1 730.6L961.3 730.6L965.5 730.6L969.7 730.6L973.9 730.6L978.1 730.6L978.1 772.2L982.2 772.2L986.4 772.2L990.6 772.2L994.8 772.2L999 772.2L1003.2 772.2L1007.4 772.2L1011.6 772.2L1015.8 772.2L1020 772.2L1020 810.4L1024.2 810.4L1028.4 810.4L1032.6 810.4L1036.8 810.4L1040.9 810.4L1045.1 810.4L1049.3 810.4L1053.5 810.4L1057.7 810.4L1061.9 810.4L1061.9 845.9L1066.1 845.9L1070.3 845.9L1074.5 845.9L1078.7 845.9L1082.9 845.9L1087.1 845.9L1091.3 845.9L1095.5 845.9L1099.6 845.9L1103.8 845.9L1103.8 884.8L1108 884.8L1112.2 884.8L1116.4 884.8L1120.6 884.8L1124.8 884.8L1129 884.8L1133.2 884.8L1137.4 884.8L1141.6 884.8L1145.8 884.8L1145.8 922.3L1150 922.3L1154.2 922.3L1158.3 922.3L1162.5 922.3L1166.7 922.3L1170.9 922.3L1175.1 922.3L1179.3 922.3L1183.5 922.3L1187.7 922.3L1187.7 957.8L1191.9 957.8L1196.1 957.8L1200.3 957.8L1204.5 957.8L1208.7 957.8L1212.9 957.8L1217 957.8L1221.2 957.8L1225.4 957.8L1229.6 957.8L1229.6 1072.6L1233.8 1072.6L1238 1072.6L1242.2 1072.6L1246.4 1072.6L1250.6 1072.6L1254.8 1072.6L1259 1072.6L1263.2 1072.6L1267.4 1072.6L1271.6 1072.6L1271.6 1059.6L1275.7 1059.6L1279.9 1059.6L1284.1 1059.6L1288.3 1059.6L1292.5 1059.6L1296.7 1059.6L1300.9 1059.6L1305.1 1059.6L1309.3 1059.6L1313.5 1059.6L1313.5 1057.3L1317.7 1057.3L1321.9 1057.3L1326.1 1057.3L1330.3 1057.3L1334.4 1057.3L1338.6 1057.3L1342.8 1057.3L1347 1057.3L1351.2 1057.3L1355.4 1057.3L1355.4 1046.1L1359.6 1046.1L1363.8 1046.1L1368 1046.1L1372.2 1046.1L1376.4 1046.1L1380.6 1046.1L1384.8 1046.1L1389 1046.1L1393.1 1046.1L1397.3 1046.1L1397.3 1038.1L1401.5 1038.1L1405.7 1038.1L1409.9 1038.1L1414.1 1038.1L1418.3 1038.1L1422.5 1038.1L1426.7 1038.1L1430.9 1038.1L1435.1 1038.1L1439.3 1038.1L1439.3 1044.4L1443.5 1044.4L1447.7 1044.4L1451.8 1044.4L1456 1044.4L1460.2 1044.4L1464.4 1044.4L1468.6 1044.4L1472.8 1044.4L1477 1044.4L1481.2 1044.4L1481.2 1039.9L1485.4 1039.9L1489.6 1039.9L1493.8 1039.9L1498 1039.9L1502.2 1039.9L1506.4 1039.9L1510.5 1039.9L1514.7 1039.9L1518.9 1039.9L1523.1 1039.9L1523.1 1025.8L1527.3 1025.8L1531.5 1025.8L1535.7 1025.8L1539.9 1025.8L1544.1 1025.8L1548.3 1025.8L1552.5 1025.8L1556.7 1025.8L1560.9 1025.8L1565.1 1025.8L1565.1 1029L1569.2 1029L1573.4 1029L1577.6 1029L1581.8 1029L1586 1029L1590.2 1029L1594.4 1029L1598.6 1029L1602.8 1029L1607 1029L1607 995.9L1611.2 995.9L1615.4 995.9L1619.6 995.9L1623.8 995.9L1627.9 995.9L1632.1 995.9L1636.3 995.9L1640.5 995.9L1644.7 995.9L1648.9 995.9L1648.9 1018L1653.1 1018L1657.3 1018L1661.5 1018L1665.7 1018L1669.9 1018L1674.1 1018L1678.3 1018L1682.5 1018L1686.7 1018L1690.8 1018L1690.8 958.1L1695 958.1L1699.2 958.1L1703.4 958.1L1707.6 958.1L1711.8 958.1L1716 958.1L1720.2 958.1L1724.4 958.1L1728.6 958.1L1732.8 958.1L1732.8 1013.3L1737 1013.3L1741.2 1013.3L1745.4 1013.3L1749.5 1013.3L1753.7 1013.3L1757.9 1013.3L1762.1 1013.3L1766.3 1013.3L1770.5 1013.3L1774.7 1013.3L1774.7 980.9L1778.9 980.9L1783.1 980.9L1787.3 980.9L1791.5 980.9L1795.7 980.9L1799.9 980.9L1804.1 980.9L1808.2 980.9L1812.4 980.9L1816.6 980.9L1816.6 952.6L1820.8 952.6L1825 952.6L1829.2 952.6L1833.4 952.6L1837.6 952.6L1841.8 952.6L1846 952.6L1850.2 952.6L1854.4 952.6L1858.6 952.6L1858.6 985.4L1862.8 985.4L1866.9 985.4L1871.1 985.4L1875.3 985.4L1879.5 985.4L1883.7 985.4L1887.9 985.4L1892.1 985.4L1896.3 985.4L1900.5 985.4L1900.5 957.4L1904.7 957.4L1908.9 957.4L1913.1 957.4L1917.3 957.4L1921.5 957.4L1925.6 957.4L1929.8 957.4L1934 957.4L1938.2 957.4L1942.4 957.4L1942.4 952.6L1946.6 952.6L1950.8 952.6L1955 952.6L1959.2 952.6L1963.4 952.6L1967.6 952.6L1971.8 952.6L1976 952.6L1980.2 952.6L1984.3 952.6L1984.3 905.6L1988.5 905.6L1992.7 905.6L1996.9 905.6L2001.1 905.6L2005.3 905.6L2009.5 905.6L2013.7 905.6L2017.9 905.6L2022.1 905.6L2026.3 905.6L2026.3 957.4L2030.5 957.4L2034.7 957.4L2038.9 957.4L2043 957.4L2047.2 957.4L2051.4 957.4L2055.6 957.4L2059.8 957.4L2064 957.4L2068.2 957.4L2068.2 907.6L2072.4 907.6L2076.6 907.6L2080.8 907.6L2085 907.6L2089.2 907.6L2093.4 907.6L2097.6 907.6L2101.7 907.6L2105.9 907.6L2110.1 907.6L2110.1 900.1L2114.3 900.1L2118.5 900.1L2122.7 900.1L2126.9 900.1L2131.1 900.1L2135.3 900.1L2139.5 900.1L2143.7 900.1L2147.9 900.1L2152.1 900.1L2152.1 741.9L2156.3 741.9L2160.4 741.9L2164.6 741.9L2168.8 741.9L2173 741.9L2177.2 741.9L2181.4 741.9L2185.6 741.9L2189.8 741.9L2194 741.9L2194 920.6L2198.2 920.6L2202.4 920.6L2206.6 920.6L2210.8 920.6L2215 920.6L2219.1 920.6L2223.3 920.6L2227.5 920.6L2231.7 920.6L2235.9 920.6L2235.9 930.1L2240.1 930.1L2244.3 930.1L2248.5 930.1L2252.7 930.1L2256.9 930.1L2261.1 930.1L2265.3 930.1L2269.5 930.1L2273.7 930.1L2277.8 930.1L2277.8 954L2282 954L2286.2 954L2290.4 954L2294.6 954L2298.8 954L2303 954L2307.2 954L2311.4 954L2315.6 954L2319.8 954L2319.8 661.4L2324 661.4L2328.2 661.4L2332.4 661.4L2336.5 661.4L2340.7 661.4L2344.9 661.4L2349.1 661.4L2353.3 661.4L2357.5 661.4L2361.7 661.4L2361.7 539.3" stroke="#7E2F8E" stroke-width="8.5" fill="none" stroke-linejoin="miter" stroke-linecap="butt"/>
<path d="M269.4 632.8L273.6 632.8L273.6 203.1L277.8 203.1L282 203.1L286.2 203.1L290.4 203.1L294.6 203.1L298.8 203.1L303 203.1L307.2 203.1L307.2 221.5L311.4 221.5L311.4 226.3L315.6 226.3L319.8 226.3L324 226.3L328.2 226.3L332.3 226.3L336.5 226.3L340.7 226.3L344.9 226.3L349.1 226.3L349.1 257L353.3 257L353.3 248.8L357.5 248.8L361.7 248.8L365.9 248.8L370.1 248.8L374.3 248.8L378.5 248.8L382.7 248.8L386.9 248.8L391 248.8L391 281.4L395.2 281.4L399.4 281.4L403.6 281.4L407.8 281.4L412 281.4L416.2 281.4L420.4 281.4L424.6 281.4L428.8 281.4L433 281.4L433 312.9L437.2 312.9L441.4 312.9L445.6 312.9L449.7 312.9L453.9 312.9L458.1 312.9L462.3 312.9L466.5 312.9L470.7 312.9L474.9 312.9L474.9 347.7L479.1 347.7L483.3 347.7L487.5 347.7L491.7 347.7L495.9 347.7L500.1 347.7L504.3 347.7L508.4 347.7L512.6 347.7L516.8 347.7L516.8 377.7L521 377.7L525.2 377.7L529.4 377.7L533.6 377.7L537.8 377.7L542 377.7L546.2 377.7L550.4 377.7L554.6 377.7L558.8 377.7L558.8 409.1L563 409.1L567.1 409.1L571.3 409.1L575.5 409.1L579.7 409.1L583.9 409.1L588.1 409.1L592.3 409.1L596.5 409.1L600.7 409.1L600.7 445.2L604.9 445.2L609.1 445.2L613.3 445.2L617.5 445.2L621.7 445.2L625.8 445.2L630 445.2L634.2 445.2L638.4 445.2L642.6 445.2L642.6 473.2L646.8 473.2L651 473.2L655.2 473.2L659.4 473.2L663.6 473.2L667.8 473.2L672 473.2L676.2 473.2L680.4 473.2L684.5 473.2L684.5 505.3L688.7 505.3L692.9 505.3L697.1 505.3L701.3 505.3L705.5 505.3L709.7 505.3L713.9 505.3L718.1 505.3L722.3 505.3L726.5 505.3L726.5 545.5L730.7 545.5L734.9 545.5L739.1 545.5L743.2 545.5L747.4 545.5L751.6 545.5L755.8 545.5L760 545.5L764.2 545.5L768.4 545.5L768.4 584.5L772.6 584.5L776.8 584.5L781 584.5L785.2 584.5L789.4 584.5L793.6 584.5L797.8 584.5L801.9 584.5L806.1 584.5L810.3 584.5L810.3 622.9L814.5 622.9L818.7 622.9L822.9 622.9L827.1 622.9L831.3 622.9L835.5 622.9L839.7 622.9L843.9 622.9L848.1 622.9L852.3 622.9L852.3 662.1L856.5 662.1L860.6 662.1L864.8 662.1L869 662.1L873.2 662.1L877.4 662.1L881.6 662.1L885.8 662.1L890 662.1L894.2 662.1L894.2 700.8L898.4 700.8L902.6 700.8L906.8 700.8L911 700.8L915.2 700.8L919.3 700.8L923.5 700.8L927.7 700.8L931.9 700.8L936.1 700.8L936.1 736.6L940.3 736.6L944.5 736.6L948.7 736.6L952.9 736.6L957.1 736.6L961.3 736.6L965.5 736.6L969.7 736.6L973.9 736.6L978.1 736.6L978.1 777.3L982.2 777.3L986.4 777.3L990.6 777.3L994.8 777.3L999 777.3L1003.2 777.3L1007.4 777.3L1011.6 777.3L1015.8 777.3L1020 777.3L1020 814.8L1024.2 814.8L1028.4 814.8L1032.6 814.8L1036.8 814.8L1040.9 814.8L1045.1 814.8L1049.3 814.8L1053.5 814.8L1057.7 814.8L1061.9 814.8L1061.9 849.6L1066.1 849.6L1070.3 849.6L1074.5 849.6L1078.7 849.6L1082.9 849.6L1087.1 849.6L1091.3 849.6L1095.5 849.6L1099.6 849.6L1103.8 849.6L1103.8 887.6L1108 887.6L1112.2 887.6L1116.4 887.6L1120.6 887.6L1124.8 887.6L1129 887.6L1133.2 887.6L1137.4 887.6L1141.6 887.6L1145.8 887.6L1145.8 924.3L1150 924.3L1154.2 924.3L1158.3 924.3L1162.5 924.3L1166.7 924.3L1170.9 924.3L1175.1 924.3L1179.3 924.3L1183.5 924.3L1187.7 924.3L1187.7 958.9L1191.9 958.9L1196.1 958.9L1200.3 958.9L1204.5 958.9L1208.7 958.9L1212.9 958.9L1217 958.9L1221.2 958.9L1225.4 958.9L1229.6 958.9L1229.6 1067L1233.8 1067L1238 1067L1242.2 1067L1246.4 1067L1250.6 1067L1254.8 1067L1259 1067L1263.2 1067L1267.4 1067L1271.6 1067L1271.6 1053.9L1275.7 1053.9L1279.9 1053.9L1284.1 1053.9L1288.3 1053.9L1292.5 1053.9L1296.7 1053.9L1300.9 1053.9L1305.1 1053.9L1309.3 1053.9L1313.5 1053.9L1313.5 1051.7L1317.7 1051.7L1321.9 1051.7L1326.1 1051.7L1330.3 1051.7L1334.4 1051.7L1338.6 1051.7L1342.8 1051.7L1347 1051.7L1351.2 1051.7L1355.4 1051.7L1355.4 1044.2L1359.6 1044.2L1363.8 1044.2L1368 1044.2L1372.2 1044.2L1376.4 1044.2L1380.6 1044.2L1384.8 1044.2L1389 1044.2L1393.1 1044.2L1397.3 1044.2L1397.3 1036.2L1401.5 1036.2L1405.7 1036.2L1409.9 1036.2L1414.1 1036.2L1418.3 1036.2L1422.5 1036.2L1426.7 1036.2L1430.9 1036.2L1435.1 1036.2L1439.3 1036.2L1439.3 1042.5L1443.5 1042.5L1447.7 1042.5L1451.8 1042.5L1456 1042.5L1460.2 1042.5L1464.4 1042.5L1468.6 1042.5L1472.8 1042.5L1477 1042.5L1481.2 1042.5L1481.2 1038.1L1485.4 1038.1L1489.6 1038.1L1493.8 1038.1L1498 1038.1L1502.2 1038.1L1506.4 1038.1L1510.5 1038.1L1514.7 1038.1L1518.9 1038.1L1523.1 1038.1L1523.1 1024L1527.3 1024L1531.5 1024L1535.7 1024L1539.9 1024L1544.1 1024L1548.3 1024L1552.5 1024L1556.7 1024L1560.9 1024L1565.1 1024L1565.1 1027.2L1569.2 1027.2L1573.4 1027.2L1577.6 1027.2L1581.8 1027.2L1586 1027.2L1590.2 1027.2L1594.4 1027.2L1598.6 1027.2L1602.8 1027.2L1607 1027.2L1607 994.6L1611.2 994.6L1615.4 994.6L1619.6 994.6L1623.8 994.6L1627.9 994.6L1632.1 994.6L1636.3 994.6L1640.5 994.6L1644.7 994.6L1648.9 994.6L1648.9 1016.2L1653.1 1016.2L1657.3 1016.2L1661.5 1016.2L1665.7 1016.2L1669.9 1016.2L1674.1 1016.2L1678.3 1016.2L1682.5 1016.2L1686.7 1016.2L1690.8 1016.2L1690.8 957.6L1695 957.6L1699.2 957.6L1703.4 957.6L1707.6 957.6L1711.8 957.6L1716 957.6L1720.2 957.6L1724.4 957.6L1728.6 957.6L1732.8 957.6L1732.8 1011.6L1737 1011.6L1741.2 1011.6L1745.4 1011.6L1749.5 1011.6L1753.7 1011.6L1757.9 1011.6L1762.1 1011.6L1766.3 1011.6L1770.5 1011.6L1774.7 1011.6L1774.7 979.9L1778.9 979.9L1783.1 979.9L1787.3 979.9L1791.5 979.9L1795.7 979.9L1799.9 979.9L1804.1 979.9L1808.2 979.9L1812.4 979.9L1816.6 979.9L1816.6 952.3L1820.8 952.3L1825 952.3L1829.2 952.3L1833.4 952.3L1837.6 952.3L1841.8 952.3L1846 952.3L1850.2 952.3L1854.4 952.3L1858.6 952.3L1858.6 984.2L1862.8 984.2L1866.9 984.2L1871.1 984.2L1875.3 984.2L1879.5 984.2L1883.7 984.2L1887.9 984.2L1892.1 984.2L1896.3 984.2L1900.5 984.2L1900.5 956.9L1904.7 956.9L1908.9 956.9L1913.1 956.9L1917.3 956.9L1921.5 956.9L1925.6 956.9L1929.8 956.9L1934 956.9L1938.2 956.9L1942.4 956.9L1942.4 952.3L1946.6 952.3L1950.8 952.3L1955 952.3L1959.2 952.3L1963.4 952.3L1967.6 952.3L1971.8 952.3L1976 952.3L1980.2 952.3L1984.3 952.3L1984.3 906.3L1988.5 906.3L1992.7 906.3L1996.9 906.3L2001.1 906.3L2005.3 906.3L2009.5 906.3L2013.7 906.3L2017.9 906.3L2022.1 906.3L2026.3 906.3L2026.3 956.9L2030.5 956.9L2034.7 956.9L2038.9 956.9L2043 956.9L2047.2 956.9L2051.4 956.9L2055.6 956.9L2059.8 956.9L2064 956.9L2068.2 956.9L2068.2 908.3L2072.4 908.3L2076.6 908.3L2080.8 908.3L2085 908.3L2089.2 908.3L2093.4 908.3L2097.6 908.3L2101.7 908.3L2105.9 908.3L2110.1 908.3L2110.1 900.9L2114.3 900.9L2118.5 900.9L2122.7 900.9L2126.9 900.9L2131.1 900.9L2135.3 900.9L2139.5 900.9L2143.7 900.9L2147.9 900.9L2152.1 900.9L2152.1 746L2156.3 746L2160.4 746L2164.6 746L2168.8 746L2173 746L2177.2 746L2181.4 746L2185.6 746L2189.8 746L2194 746L2194 920.9L2198.2 920.9L2202.4 920.9L2206.6 920.9L2210.8 920.9L2215 920.9L2219.1 920.9L2223.3 920.9L2227.5 920.9L2231.7 920.9L2235.9 920.9L2235.9 930.3L2240.1 930.3L2244.3 930.3L2248.5 930.3L2252.7 930.3L2256.9 930.3L2261.1 930.3L2265.3 930.3L2269.5 930.3L2273.7 930.3L2277.8 930.3L2277.8 953.6L2282 953.6L2286.2 953.6L2290.4 953.6L2294.6 953.6L2298.8 953.6L2303 953.6L2307.2 953.6L2311.4 953.6L2315.6 953.6L2319.8 953.6L2319.8 666.8L2324 666.8L2328.2 666.8L2332.4 666.8L2336.5 666.8L2340.7 666.8L2344.9 666.8L2349.1 666.8L2353.3 666.8L2357.5 666.8L2361.7 666.8L2361.7 546.2" stroke="#808080" stroke-width="8" fill="none" stroke-linejoin="miter" stroke-linecap="butt" stroke-dasharray="54 32"/>
<path d="M273.6 59.9L273.6 179.9L277.8 179.9L282 179.9L286.2 179.9L290.4 179.9L294.6 179.9L298.8 179.9L303 179.9L307.2 179.9L307.2 204.5L311.4 204.5L315.6 204.5L319.8 204.5L324 204.5L328.2 204.5L332.3 204.5L336.5 204.5L340.7 204.5L344.9 204.5L349.1 204.5L349.1 230.4L353.3 230.4L357.5 230.4L361.7 230.4L365.9 230.4L370.1 230.4L374.3 230.4L378.5 230.4L382.7 230.4L386.9 230.4L391 230.4L391 259.7L395.2 259.7L399.4 259.7L403.6 259.7L407.8 259.7L412 259.7L416.2 259.7L420.4 259.7L424.6 259.7L428.8 259.7L433 259.7L433 293.8L437.2 293.8L441.4 293.8L445.6 293.8L449.7 293.8L453.9 293.8L458.1 293.8L462.3 293.8L466.5 293.8L470.7 293.8L474.9 293.8L474.9 330L479.1 330L483.3 330L487.5 330L491.7 330L495.9 330L500.1 330L504.3 330L508.4 330L512.6 330L516.8 330L516.8 361.3L521 361.3L525.2 361.3L529.4 361.3L533.6 361.3L537.8 361.3L542 361.3L546.2 361.3L550.4 361.3L554.6 361.3L558.8 361.3L558.8 394.8L563 394.8L567.1 394.8L571.3 394.8L575.5 394.8L579.7 394.8L583.9 394.8L588.1 394.8L592.3 394.8L596.5 394.8L600.7 394.8L600.7 431.6L604.9 431.6L609.1 431.6L613.3 431.6L617.5 431.6L621.7 431.6L625.8 431.6L630 431.6L634.2 431.6L638.4 431.6L642.6 431.6L642.6 463.3L646.8 463.3L651 463.3L655.2 463.3L659.4 463.3L663.6 463.3L667.8 463.3L672 463.3L676.2 463.3L680.4 463.3L684.5 463.3L684.5 495.7L688.7 495.7L692.9 495.7L697.1 495.7L701.3 495.7L705.5 495.7L709.7 495.7L713.9 495.7L718.1 495.7L722.3 495.7L726.5 495.7L726.5 536.6L730.7 536.6L734.9 536.6L739.1 536.6L743.2 536.6L747.4 536.6L751.6 536.6L755.8 536.6L760 536.6L764.2 536.6L768.4 536.6L768.4 576.2L772.6 576.2L776.8 576.2L781 576.2L785.2 576.2L789.4 576.2L793.6 576.2L797.8 576.2L801.9 576.2L806.1 576.2L810.3 576.2L810.3 615L814.5 615L818.7 615L822.9 615L827.1 615L831.3 615L835.5 615L839.7 615L843.9 615L848.1 615L852.3 615L852.3 654.6L856.5 654.6L860.6 654.6L864.8 654.6L869 654.6L873.2 654.6L877.4 654.6L881.6 654.6L885.8 654.6L890 654.6L894.2 654.6L894.2 693.7L898.4 693.7L902.6 693.7L906.8 693.7L911 693.7L915.2 693.7L919.3 693.7L923.5 693.7L927.7 693.7L931.9 693.7L936.1 693.7L936.1 730.3L940.3 730.3L944.5 730.3L948.7 730.3L952.9 730.3L957.1 730.3L961.3 730.3L965.5 730.3L969.7 730.3L973.9 730.3L978.1 730.3L978.1 771.9L982.2 771.9L986.4 771.9L990.6 771.9L994.8 771.9L999 771.9L1003.2 771.9L1007.4 771.9L1011.6 771.9L1015.8 771.9L1020 771.9L1020 810.1L1024.2 810.1L1028.4 810.1L1032.6 810.1L1036.8 810.1L1040.9 810.1L1045.1 810.1L1049.3 810.1L1053.5 810.1L1057.7 810.1L1061.9 810.1L1061.9 845.6L1066.1 845.6L1070.3 845.6L1074.5 845.6L1078.7 845.6L1082.9 845.6L1087.1 845.6L1091.3 845.6L1095.5 845.6L1099.6 845.6L1103.8 845.6L1103.8 884.4L1108 884.4L1112.2 884.4L1116.4 884.4L1120.6 884.4L1124.8 884.4L1129 884.4L1133.2 884.4L1137.4 884.4L1141.6 884.4L1145.8 884.4L1145.8 921.9L1150 921.9L1154.2 921.9L1158.3 921.9L1162.5 921.9L1166.7 921.9L1170.9 921.9L1175.1 921.9L1179.3 921.9L1183.5 921.9L1187.7 921.9L1187.7 957.4L1191.9 957.4L1196.1 957.4L1200.3 957.4L1204.5 957.4L1208.7 957.4L1212.9 957.4L1217 957.4L1221.2 957.4L1225.4 957.4L1229.6 957.4L1229.6 1066.8L1233.8 1066.8L1238 1066.8L1242.2 1066.8L1246.4 1066.8L1250.6 1066.8L1254.8 1066.8L1259 1066.8L1263.2 1066.8L1267.4 1066.8L1271.6 1066.8L1271.6 1053.8L1275.7 1053.8L1279.9 1053.8L1284.1 1053.8L1288.3 1053.8L1292.5 1053.8L1296.7 1053.8L1300.9 1053.8L1305.1 1053.8L1309.3 1053.8L1313.5 1053.8L1313.5 1051.5L1317.7 1051.5L1321.9 1051.5L1326.1 1051.5L1330.3 1051.5L1334.4 1051.5L1338.6 1051.5L1342.8 1051.5L1347 1051.5L1351.2 1051.5L1355.4 1051.5L1355.4 1044L1359.6 1044L1363.8 1044L1368 1044L1372.2 1044L1376.4 1044L1380.6 1044L1384.8 1044L1389 1044L1393.1 1044L1397.3 1044L1397.3 1036L1401.5 1036L1405.7 1036L1409.9 1036L1414.1 1036L1418.3 1036L1422.5 1036L1426.7 1036L1430.9 1036L1435.1 1036L1439.3 1036L1439.3 1042.3L1443.5 1042.3L1447.7 1042.3L1451.8 1042.3L1456 1042.3L1460.2 1042.3L1464.4 1042.3L1468.6 1042.3L1472.8 1042.3L1477 1042.3L1481.2 1042.3L1481.2 1037.9L1485.4 1037.9L1489.6 1037.9L1493.8 1037.9L1498 1037.9L1502.2 1037.9L1506.4 1037.9L1510.5 1037.9L1514.7 1037.9L1518.9 1037.9L1523.1 1037.9L1523.1 1023.8L1527.3 1023.8L1531.5 1023.8L1535.7 1023.8L1539.9 1023.8L1544.1 1023.8L1548.3 1023.8L1552.5 1023.8L1556.7 1023.8L1560.9 1023.8L1565.1 1023.8L1565.1 1027L1569.2 1027L1573.4 1027L1577.6 1027L1581.8 1027L1586 1027L1590.2 1027L1594.4 1027L1598.6 1027L1602.8 1027L1607 1027L1607 993.9L1611.2 993.9L1615.4 993.9L1619.6 993.9L1623.8 993.9L1627.9 993.9L1632.1 993.9L1636.3 993.9L1640.5 993.9L1644.7 993.9L1648.9 993.9L1648.9 1016L1653.1 1016L1657.3 1016L1661.5 1016L1665.7 1016L1669.9 1016L1674.1 1016L1678.3 1016L1682.5 1016L1686.7 1016L1690.8 1016L1690.8 956L1695 956L1699.2 956L1703.4 956L1707.6 956L1711.8 956L1716 956L1720.2 956L1724.4 956L1728.6 956L1732.8 956L1732.8 1011.3L1737 1011.3L1741.2 1011.3L1745.4 1011.3L1749.5 1011.3L1753.7 1011.3L1757.9 1011.3L1762.1 1011.3L1766.3 1011.3L1770.5 1011.3L1774.7 1011.3L1774.7 978.9L1778.9 978.9L1783.1 978.9L1787.3 978.9L1791.5 978.9L1795.7 978.9L1799.9 978.9L1804.1 978.9L1808.2 978.9L1812.4 978.9L1816.6 978.9L1816.6 950.6L1820.8 950.6L1825 950.6L1829.2 950.6L1833.4 950.6L1837.6 950.6L1841.8 950.6L1846 950.6L1850.2 950.6L1854.4 950.6L1858.6 950.6L1858.6 983.3L1862.8 983.3L1866.9 983.3L1871.1 983.3L1875.3 983.3L1879.5 983.3L1883.7 983.3L1887.9 983.3L1892.1 983.3L1896.3 983.3L1900.5 983.3L1900.5 955.4L1904.7 955.4L1908.9 955.4L1913.1 955.4L1917.3 955.4L1921.5 955.4L1925.6 955.4L1929.8 955.4L1934 955.4L1938.2 955.4L1942.4 955.4L1942.4 950.6L1946.6 950.6L1950.8 950.6L1955 950.6L1959.2 950.6L1963.4 950.6L1967.6 950.6L1971.8 950.6L1976 950.6L1980.2 950.6L1984.3 950.6L1984.3 903.5L1988.5 903.5L1992.7 903.5L1996.9 903.5L2001.1 903.5L2005.3 903.5L2009.5 903.5L2013.7 903.5L2017.9 903.5L2022.1 903.5L2026.3 903.5L2026.3 955.4L2030.5 955.4L2034.7 955.4L2038.9 955.4L2043 955.4L2047.2 955.4L2051.4 955.4L2055.6 955.4L2059.8 955.4L2064 955.4L2068.2 955.4L2068.2 905.6L2072.4 905.6L2076.6 905.6L2080.8 905.6L2085 905.6L2089.2 905.6L2093.4 905.6L2097.6 905.6L2101.7 905.6L2105.9 905.6L2110.1 905.6L2110.1 898.1L2114.3 898.1L2118.5 898.1L2122.7 898.1L2126.9 898.1L2131.1 898.1L2135.3 898.1L2139.5 898.1L2143.7 898.1L2147.9 898.1L2152.1 898.1L2152.1 739.9L2156.3 739.9L2160.4 739.9L2164.6 739.9L2168.8 739.9L2173 739.9L2177.2 739.9L2181.4 739.9L2185.6 739.9L2189.8 739.9L2194 739.9L2194 918.5L2198.2 918.5L2202.4 918.5L2206.6 918.5L2210.8 918.5L2215 918.5L2219.1 918.5L2223.3 918.5L2227.5 918.5L2231.7 918.5L2235.9 918.5L2235.9 928.1L2240.1 928.1L2244.3 928.1L2248.5 928.1L2252.7 928.1L2256.9 928.1L2261.1 928.1L2265.3 928.1L2269.5 928.1L2273.7 928.1L2277.8 928.1L2277.8 952L2282 952L2286.2 952L2290.4 952L2294.6 952L2298.8 952L2303 952L2307.2 952L2311.4 952L2315.6 952L2319.8 952L2319.8 659.4L2324 659.4L2328.2 659.4L2332.4 659.4L2336.5 659.4L2340.7 659.4L2344.9 659.4L2349.1 659.4L2353.3 659.4L2357.5 659.4L2361.7 659.4L2361.7 537.3" stroke="#77AC30" stroke-width="9" fill="none" stroke-linejoin="miter" stroke-linecap="butt"/>
<rect x="1214.6" y="362.3" width="399.6" height="380.4" fill="#fff"/>
<g stroke="#262626" stroke-width="5.5" fill="none">
<line x1="1214.6" y1="742.7" x2="1214.6" y2="736.7"/>
<line x1="1214.6" y1="362.3" x2="1214.6" y2="368.3"/>
<line x1="1414.4" y1="742.7" x2="1414.4" y2="736.7"/>
<line x1="1414.4" y1="362.3" x2="1414.4" y2="368.3"/>
<line x1="1614.2" y1="742.7" x2="1614.2" y2="736.7"/>
<line x1="1614.2" y1="362.3" x2="1614.2" y2="368.3"/>
<line x1="1214.6" y1="742.7" x2="1220.6" y2="742.7"/>
<line x1="1614.2" y1="742.7" x2="1608.2" y2="742.7"/>
<line x1="1214.6" y1="573.6" x2="1220.6" y2="573.6"/>
<line x1="1614.2" y1="573.6" x2="1608.2" y2="573.6"/>
<line x1="1214.6" y1="404.6" x2="1220.6" y2="404.6"/>
<line x1="1614.2" y1="404.6" x2="1608.2" y2="404.6"/>
<rect x="1214.6" y="362.3" width="399.6" height="380.4"/>
</g>
<path d="M1214.6 362.3L1214.6 417.3L1254.6 417.3L1294.5 417.3L1334.5 417.3L1374.4 417.3L1414.4 417.3L1454.4 417.3L1494.3 417.3L1534.3 417.3L1574.2 417.3L1614.2 417.3L1614.2 362.3" stroke="#0072BD" stroke-width="9" fill="none" stroke-linejoin="miter"/>
<path d="M1214.6 362.3L1214.6 440.9L1254.6 440.9L1294.5 440.9L1334.5 440.9L1374.4 440.9L1414.4 440.9L1454.4 440.9L1494.3 440.9L1534.3 440.9L1574.2 440.9L1614.2 440.9L1614.2 362.3" stroke="#0072BD" stroke-width="12" fill="none" stroke-linejoin="miter" stroke-dasharray="11.8 9.7"/>
<path d="M1214.6 362.3L1214.6 447.7L1254.6 447.7L1254.6 630.3L1294.5 630.3L1294.5 402.4L1334.5 402.4L1334.5 548.3L1374.4 548.3L1374.4 400.4L1414.4 400.4L1414.4 528L1454.4 528L1454.4 400.4L1494.3 400.4L1494.3 506L1534.3 506L1534.3 400.4L1574.2 400.4L1574.2 482.3L1614.2 482.3L1614.2 362.3" stroke="#D95319" stroke-width="7" fill="none" stroke-linejoin="miter"/>
<path d="M1214.6 362.3L1214.6 662.4L1254.6 662.4L1254.6 649.7L1294.5 649.7L1294.5 641.3L1334.5 641.3L1334.5 635.3L1374.4 635.3L1374.4 628.6L1414.4 628.6L1414.4 626L1454.4 626L1454.4 622.7L1494.3 622.7L1494.3 620.1L1534.3 620.1L1534.3 617.6L1574.2 617.6L1574.2 615.9L1614.2 615.9L1614.2 362.3" stroke="#7E2F8E" stroke-width="8" fill="none" stroke-linejoin="miter"/>
<path d="M1214.6 362.3L1214.6 413L1254.6 413L1254.6 420.6L1294.5 420.6L1334.5 420.6L1374.4 420.6L1414.4 420.6L1454.4 420.6L1494.3 420.6L1534.3 420.6L1574.2 420.6L1614.2 420.6L1614.2 362.3" stroke="#808080" stroke-width="8" fill="none" stroke-linejoin="miter" stroke-dasharray="54 32"/>
<path d="M1214.6 362.3L1214.6 396.1L1254.6 396.1L1294.5 396.1L1334.5 396.1L1374.4 396.1L1414.4 396.1L1454.4 396.1L1494.3 396.1L1534.3 396.1L1574.2 396.1L1614.2 396.1L1614.2 362.3" stroke="#77AC30" stroke-width="9" fill="none" stroke-linejoin="miter"/>
<rect x="1772" y="60.5" width="595" height="554" fill="#fff" stroke="#262626" stroke-width="6"/>
<line x1="1821" y1="118.5" x2="1930" y2="118.5" stroke="#0072BD" stroke-width="8.8"/>
<line x1="1821" y1="206" x2="1930" y2="206" stroke="#0072BD" stroke-width="12" stroke-dasharray="11.8 9.7"/>
<line x1="1821" y1="293.4" x2="1930" y2="293.4" stroke="#D95319" stroke-width="7.2"/>
<line x1="1821" y1="381.5" x2="1930" y2="381.5" stroke="#7E2F8E" stroke-width="8.8"/>
<line x1="1821" y1="468.9" x2="1930" y2="468.9" stroke="#808080" stroke-width="8" stroke-dasharray="55 31"/>
<line x1="1821" y1="556.4" x2="1930" y2="556.4" stroke="#77AC30" stroke-width="9"/>
<g stroke="#dfdfdf" stroke-width="6" fill="none">
<line x1="695.7" y1="1543.4" x2="695.7" y2="2315.3"/>
<line x1="1112.4" y1="1543.4" x2="1112.4" y2="2315.3"/>
<line x1="1529" y1="1543.4" x2="1529" y2="2315.3"/>
<line x1="1945.7" y1="1543.4" x2="1945.7" y2="2315.3"/>
<line x1="279" y1="2094.8" x2="2362.4" y2="2094.8"/>
<line x1="279" y1="1874.4" x2="2362.4" y2="1874.4"/>
<line x1="279" y1="1653.9" x2="2362.4" y2="1653.9"/>
</g>
<g stroke="#262626" stroke-width="6" fill="none">
<line x1="279" y1="2315.3" x2="279" y2="2291.3"/>
<line x1="279" y1="1543.4" x2="279" y2="1567.4"/>
<line x1="695.7" y1="2315.3" x2="695.7" y2="2291.3"/>
<line x1="695.7" y1="1543.4" x2="695.7" y2="1567.4"/>
<line x1="1112.4" y1="2315.3" x2="1112.4" y2="2291.3"/>
<line x1="1112.4" y1="1543.4" x2="1112.4" y2="1567.4"/>
<line x1="1529" y1="2315.3" x2="1529" y2="2291.3"/>
<line x1="1529" y1="1543.4" x2="1529" y2="1567.4"/>
<line x1="1945.7" y1="2315.3" x2="1945.7" y2="2291.3"/>
<line x1="1945.7" y1="1543.4" x2="1945.7" y2="1567.4"/>
<line x1="2362.4" y1="2315.3" x2="2362.4" y2="2291.3"/>
<line x1="2362.4" y1="1543.4" x2="2362.4" y2="1567.4"/>
<line x1="279" y1="2315.3" x2="303" y2="2315.3"/>
<line x1="2362.4" y1="2315.3" x2="2338.4" y2="2315.3"/>
<line x1="279" y1="2094.8" x2="303" y2="2094.8"/>
<line x1="2362.4" y1="2094.8" x2="2338.4" y2="2094.8"/>
<line x1="279" y1="1874.4" x2="303" y2="1874.4"/>
<line x1="2362.4" y1="1874.4" x2="2338.4" y2="1874.4"/>
<line x1="279" y1="1653.9" x2="303" y2="1653.9"/>
<line x1="2362.4" y1="1653.9" x2="2338.4" y2="1653.9"/>
<rect x="279" y="1543.4" width="2083.4" height="771.9"/>
</g>
<path d="M283.2 2304.3L287.3 2150.3L291.5 1999.5L295.7 1863.7L299.8 1797.4L304 1748.7L308.2 1724.6L312.3 1703.5L316.5 1691.2L320.7 1679.6L324.8 1670.2L329 1665.6L333.2 1661L337.3 1658.5L341.5 1656.2L345.7 1654L349.8 1652.6L354 1651.3L358.2 1649.9L362.3 1648.7L366.5 1652.6L370.7 1655.4L374.8 1657.5L379 1658.9L383.2 1659.9L387.3 1660.7L391.5 1661.2L395.7 1661.6L399.8 1661.9L404 1667.8L408.2 1672.1L412.3 1675.2L416.5 1677.4L420.7 1678.9L424.8 1680.1L429 1680.9L433.2 1681.5L437.3 1681.9L441.5 1682.2L445.7 1689.4L449.8 1694.5L454 1698.2L458.2 1700.8L462.3 1702.7L466.5 1704.1L470.7 1705.1L474.8 1705.8L479 1706.3L483.2 1706.6L487.3 1714.3L491.5 1719.8L495.7 1723.8L499.8 1726.6L504 1728.7L508.2 1730.1L512.3 1731.2L516.5 1731.9L520.7 1732.4L524.8 1732.8L529 1740.1L533.2 1745.3L537.3 1749L541.5 1751.7L545.7 1753.6L549.8 1754.9L554 1755.9L558.2 1756.6L562.3 1757.1L566.5 1757.5L570.7 1764.3L574.8 1769.1L579 1772.6L583.2 1775.1L587.3 1776.9L591.5 1778.2L595.7 1779.1L599.8 1779.8L604 1780.3L608.2 1780.6L612.3 1788.3L616.5 1793.7L620.7 1797.7L624.8 1800.5L629 1802.5L633.2 1804L637.3 1805L641.5 1805.7L645.7 1806.3L649.8 1806.6L654 1813.4L658.2 1818.3L662.3 1821.8L666.5 1824.2L670.7 1826L674.8 1827.3L679 1828.2L683.2 1828.9L687.3 1829.4L691.5 1829.7L695.7 1836.4L699.8 1841.3L704 1844.7L708.2 1847.2L712.3 1849L716.5 1850.3L720.7 1851.2L724.8 1851.8L729 1852.3L733.2 1852.6L737.3 1861.3L741.5 1867.5L745.7 1871.9L749.8 1875.1L754 1877.3L758.2 1879L762.3 1880.1L766.5 1881L770.7 1881.6L774.8 1882L779 1890.2L783.2 1896.1L787.3 1900.4L791.5 1903.4L795.7 1905.6L799.9 1907.1L804 1908.2L808.2 1909L812.4 1909.6L816.5 1910L820.7 1918.2L824.9 1924.1L829 1928.3L833.2 1931.3L837.4 1933.5L841.5 1935.1L845.7 1936.2L849.9 1937L854 1937.5L858.2 1938L862.4 1946.5L866.5 1952.5L870.7 1956.9L874.9 1960L879 1962.3L883.2 1963.9L887.4 1965L891.5 1965.9L895.7 1966.4L899.9 1966.9L904 1975.6L908.2 1981.8L912.4 1986.3L916.5 1989.5L920.7 1991.8L924.9 1993.4L929 1994.6L933.2 1995.4L937.4 1996L941.5 1996.5L945.7 2004.2L949.9 2009.8L954 2013.8L958.2 2016.6L962.4 2018.7L966.5 2020.1L970.7 2021.2L974.9 2021.9L979 2022.5L983.2 2022.8L987.4 2031.3L991.5 2037.4L995.7 2041.7L999.9 2044.8L1004 2047L1008.2 2048.6L1012.4 2049.8L1016.5 2050.6L1020.7 2051.2L1024.9 2051.6L1029 2060L1033.2 2066L1037.4 2070.4L1041.5 2073.5L1045.7 2075.7L1049.9 2077.3L1054 2078.4L1058.2 2079.2L1062.4 2079.8L1066.5 2080.2L1070.7 2088.2L1074.9 2093.9L1079 2098.1L1083.2 2101L1087.4 2103.1L1091.5 2104.6L1095.7 2105.7L1099.9 2106.5L1104 2107L1108.2 2107.4L1112.4 2116.3L1116.5 2122.6L1120.7 2127.1L1124.9 2130.4L1129 2132.7L1133.2 2134.4L1137.4 2135.6L1141.5 2136.4L1145.7 2137.1L1149.9 2137.5L1154 2146.1L1158.2 2152.2L1162.4 2156.6L1166.5 2159.8L1170.7 2162.1L1174.9 2163.7L1179 2164.8L1183.2 2165.7L1187.4 2166.3L1191.5 2166.7L1195.7 2185.4L1199.9 2198.8L1204 2208.4L1208.2 2215.2L1212.4 2220.2L1216.5 2223.7L1220.7 2226.2L1224.9 2228L1229 2229.3L1233.2 2230.3L1237.4 2250.6L1241.5 2265.2L1245.7 2275.7L1249.9 2283.1L1254 2288.5L1258.2 2292.4L1262.4 2295.1L1266.5 2297.1L1270.7 2298.5L1274.9 2299.5L1279 2300.2L1283.2 2300.8L1287.4 2301.1L1291.5 2301.4L1295.7 2301.6L1299.9 2301.7L1304 2301.8L1308.2 2301.9L1312.4 2301.9L1316.5 2302L1320.7 2300.6L1324.9 2299.6L1329 2298.9L1333.2 2298.3L1337.4 2297.9L1341.5 2297.6L1345.7 2297.3L1349.9 2297.2L1354 2297L1358.2 2296.9L1362.4 2295.2L1366.5 2294L1370.7 2293L1374.9 2292.3L1379 2291.8L1383.2 2291.4L1387.4 2291.1L1391.5 2290.9L1395.7 2290.7L1399.9 2290.6L1404 2289.1L1408.2 2287.9L1412.4 2287.1L1416.5 2286.4L1420.7 2285.9L1424.9 2285.6L1429 2285.3L1433.2 2285.1L1437.4 2285L1441.5 2284.8L1445.7 2285.9L1449.9 2286.7L1454 2287.4L1458.2 2287.8L1462.4 2288.2L1466.5 2288.4L1470.7 2288.6L1474.9 2288.8L1479 2288.9L1483.2 2289L1487.4 2288.3L1491.5 2287.8L1495.7 2287.4L1499.9 2287.1L1504 2286.9L1508.2 2286.7L1512.4 2286.6L1516.5 2286.5L1520.7 2286.4L1524.9 2286.3L1529 2283L1533.2 2280.4L1537.4 2278.5L1541.5 2277.1L1545.7 2276L1549.9 2275.2L1554 2274.6L1558.2 2274.1L1562.4 2273.8L1566.5 2273.5L1570.7 2273.9L1574.9 2274.2L1579 2274.5L1583.2 2274.6L1587.4 2274.8L1591.5 2274.9L1595.7 2274.9L1599.9 2275L1604 2275L1608.2 2275.1L1612.4 2268.6L1616.5 2263.7L1620.7 2260L1624.9 2257.3L1629 2255.2L1633.2 2253.7L1637.4 2252.5L1641.5 2251.6L1645.7 2251L1649.9 2250.5L1654 2254.2L1658.2 2256.9L1662.4 2259L1666.5 2260.6L1670.7 2261.8L1674.9 2262.7L1679 2263.3L1683.2 2263.8L1687.4 2264.2L1691.5 2264.5L1695.7 2251.7L1699.9 2242.2L1704 2235L1708.2 2229.5L1712.4 2225.5L1716.5 2222.4L1720.7 2220.1L1724.9 2218.4L1729 2217.1L1733.2 2216.1L1737.4 2226.9L1741.5 2235L1745.7 2241L1749.9 2245.6L1754 2249L1758.2 2251.6L1762.4 2253.5L1766.5 2255L1770.7 2256.1L1774.9 2256.9L1779 2252.7L1783.2 2249.6L1787.4 2247.2L1791.5 2245.5L1795.7 2244.1L1799.9 2243.1L1804 2242.4L1808.2 2241.8L1812.4 2241.4L1816.5 2241.1L1820.7 2234.1L1824.9 2228.9L1829 2225L1833.2 2222.1L1837.4 2219.9L1841.6 2218.2L1845.7 2217L1849.9 2216L1854.1 2215.3L1858.2 2214.8L1862.4 2220.8L1866.6 2225.3L1870.7 2228.7L1874.9 2231.3L1879.1 2233.2L1883.2 2234.7L1887.4 2235.7L1891.6 2236.6L1895.7 2237.2L1899.9 2237.6L1904.1 2233.5L1908.2 2230.3L1912.4 2228L1916.6 2226.2L1920.7 2224.9L1924.9 2223.9L1929.1 2223.1L1933.2 2222.5L1937.4 2222.1L1941.6 2221.8L1945.7 2220L1949.9 2218.7L1954.1 2217.7L1958.2 2216.9L1962.4 2216.4L1966.6 2215.9L1970.7 2215.6L1974.9 2215.4L1979.1 2215.2L1983.2 2215.1L1987.4 2204.9L1991.6 2197.4L1995.7 2191.6L1999.9 2187.4L2004.1 2184.1L2008.2 2181.7L2012.4 2179.9L2016.6 2178.5L2020.7 2177.5L2024.9 2176.7L2029.1 2186.1L2033.2 2193.2L2037.4 2198.6L2041.6 2202.6L2045.7 2205.6L2049.9 2207.8L2054.1 2209.5L2058.2 2210.8L2062.4 2211.7L2066.6 2212.5L2070.7 2203.8L2074.9 2197.3L2079.1 2192.4L2083.2 2188.7L2087.4 2185.9L2091.6 2183.8L2095.7 2182.3L2099.9 2181.1L2104.1 2180.2L2108.2 2179.5L2112.4 2177.5L2116.6 2176L2120.7 2174.8L2124.9 2174L2129.1 2173.3L2133.2 2172.8L2137.4 2172.5L2141.6 2172.2L2145.7 2172L2149.9 2171.8L2154.1 2141.5L2158.2 2118.6L2162.4 2101.5L2166.6 2088.6L2170.7 2078.9L2174.9 2071.6L2179.1 2066.2L2183.2 2062L2187.4 2059L2191.6 2056.6L2195.7 2087.9L2199.9 2111.3L2204.1 2129L2208.2 2142.2L2212.4 2152.2L2216.6 2159.6L2220.7 2165.3L2224.9 2169.5L2229.1 2172.7L2233.2 2175.1L2237.4 2178.7L2241.6 2181.5L2245.7 2183.6L2249.9 2185.2L2254.1 2186.4L2258.2 2187.2L2262.4 2187.9L2266.6 2188.4L2270.7 2188.8L2274.9 2189.1L2279.1 2195.1L2283.2 2199.6L2287.4 2202.9L2291.6 2205.5L2295.7 2207.4L2299.9 2208.8L2304.1 2209.9L2308.2 2210.7L2312.4 2211.3L2316.6 2211.8L2320.7 2164.1L2324.9 2125.8L2329.1 2095.2L2333.2 2070.7L2337.4 2051.1L2341.6 2035.4L2345.7 2022.8L2349.9 2012.7L2354.1 2004.7L2358.2 1998.2L2362.4 1993" stroke="#0072BD" stroke-width="9" fill="none" stroke-linejoin="round" stroke-linecap="butt"/>
<path d="M283.2 2304.3L287.3 2162.5L291.5 2022.1L295.7 1889.9L299.8 1825.1L304 1776.3L308.2 1751.5L312.3 1731.1L316.5 1717.3L320.7 1706L324.8 1697L329 1691.9L333.2 1686.8L337.3 1682.9L341.5 1680.7L345.7 1678.5L349.8 1676.4L354 1674.6L358.2 1674.7L362.3 1674.8L366.5 1677.3L370.7 1679.1L374.8 1680.5L379 1681.5L383.2 1682.2L387.3 1682.8L391.5 1683.2L395.7 1683.5L399.8 1683.8L404 1689.1L408.2 1693L412.3 1696L416.5 1698.2L420.7 1699.8L424.8 1701L429 1701.9L433.2 1702.6L437.3 1703.1L441.5 1703.5L445.7 1710L449.8 1714.8L454 1718.4L458.2 1721.1L462.3 1723.1L466.5 1724.6L470.7 1725.7L474.8 1726.5L479 1727.2L483.2 1727.6L487.3 1734.6L491.5 1739.8L495.7 1743.7L499.8 1746.5L504 1748.7L508.2 1750.3L512.3 1751.5L516.5 1752.4L520.7 1753L524.8 1753.5L529 1760.1L533.2 1765L537.3 1768.7L541.5 1771.4L545.7 1773.4L549.8 1774.9L554 1776.1L558.2 1776.9L562.3 1777.5L566.5 1778L570.7 1784.1L574.8 1788.7L579 1792.2L583.2 1794.7L587.3 1796.6L591.5 1798L595.7 1799.1L599.8 1799.9L604 1800.5L608.2 1800.9L612.3 1807.8L616.5 1813L620.7 1816.8L624.8 1819.7L629 1821.8L633.2 1823.4L637.3 1824.6L641.5 1825.5L645.7 1826.1L649.8 1826.6L654 1832.8L658.2 1837.4L662.3 1840.8L666.5 1843.3L670.7 1845.2L674.8 1846.6L679 1847.7L683.2 1848.5L687.3 1849.1L691.5 1849.5L695.7 1855.6L699.8 1860.2L704 1863.6L708.2 1866.1L712.3 1868L716.5 1869.4L720.7 1870.4L724.8 1871.2L729 1871.8L733.2 1872.2L737.3 1880L741.5 1885.8L745.7 1890.2L749.8 1893.4L754 1895.8L758.2 1897.6L762.3 1898.9L766.5 1899.9L770.7 1900.6L774.8 1901.2L779 1908.7L783.2 1914.2L787.3 1918.4L791.5 1921.4L795.7 1923.7L799.9 1925.5L804 1926.7L808.2 1927.7L812.4 1928.4L816.5 1928.9L820.7 1936.4L824.9 1941.9L829 1946.1L833.2 1949.1L837.4 1951.4L841.5 1953.1L845.7 1954.4L849.9 1955.4L854 1956.1L858.2 1956.6L862.4 1964.3L866.5 1970L870.7 1974.3L874.9 1977.5L879 1979.9L883.2 1981.6L887.4 1983L891.5 1983.9L895.7 1984.7L899.9 1985.2L904 1993.1L908.2 1999L912.4 2003.3L916.5 2006.6L920.7 2009L924.9 2010.8L929 2012.2L933.2 2013.2L937.4 2013.9L941.5 2014.5L945.7 2021.5L949.9 2026.8L954 2030.7L958.2 2033.6L962.4 2035.8L966.5 2037.4L970.7 2038.6L974.9 2039.5L979 2040.2L983.2 2040.7L987.4 2048.3L991.5 2054L995.7 2058.3L999.9 2061.4L1004 2063.8L1008.2 2065.6L1012.4 2066.9L1016.5 2067.8L1020.7 2068.6L1024.9 2069.1L1029 2076.7L1033.2 2082.4L1037.4 2086.6L1041.5 2089.8L1045.7 2092.1L1049.9 2093.9L1054 2095.2L1058.2 2096.2L1062.4 2096.9L1066.5 2097.4L1070.7 2104.7L1074.9 2110.1L1079 2114.1L1083.2 2117.1L1087.4 2119.4L1091.5 2121L1095.7 2122.3L1099.9 2123.2L1104 2123.9L1108.2 2124.4L1112.4 2132.4L1116.5 2138.4L1120.7 2142.8L1124.9 2146.1L1129 2148.6L1133.2 2150.4L1137.4 2151.8L1141.5 2152.8L1145.7 2153.6L1149.9 2154.1L1154 2161.9L1158.2 2167.7L1162.4 2172L1166.5 2175.3L1170.7 2177.7L1174.9 2179.4L1179 2180.8L1183.2 2181.8L1187.4 2182.5L1191.5 2183.1L1195.7 2197.1L1199.9 2207.6L1204 2215.3L1208.2 2221.2L1212.4 2225.5L1216.5 2228.7L1220.7 2231.1L1224.9 2232.9L1229 2234.2L1233.2 2235.2L1237.4 2252.8L1241.5 2265.9L1245.7 2275.7L1249.9 2283L1254 2288.4L1258.2 2292.5L1262.4 2295.5L1266.5 2297.7L1270.7 2299.4L1274.9 2300.6L1279 2301.6L1283.2 2302.3L1287.4 2302.8L1291.5 2303.2L1295.7 2303.4L1299.9 2303.7L1304 2303.8L1308.2 2303.9L1312.4 2304L1316.5 2304.1L1320.7 2302.7L1324.9 2301.7L1329 2300.9L1333.2 2300.3L1337.4 2299.8L1341.5 2299.5L1345.7 2299.2L1349.9 2299L1354 2298.8L1358.2 2298.7L1362.4 2297.1L1366.5 2295.9L1370.7 2295L1374.9 2294.3L1379 2293.8L1383.2 2293.3L1387.4 2293L1391.5 2292.8L1395.7 2292.6L1399.9 2292.4L1404 2291L1408.2 2289.9L1412.4 2289.1L1416.5 2288.5L1420.7 2288L1424.9 2287.6L1429 2287.3L1433.2 2287.1L1437.4 2286.9L1441.5 2286.8L1445.7 2287.8L1449.9 2288.5L1454 2289.1L1458.2 2289.5L1462.4 2289.9L1466.5 2290.1L1470.7 2290.3L1474.9 2290.5L1479 2290.6L1483.2 2290.7L1487.4 2290.1L1491.5 2289.6L1495.7 2289.2L1499.9 2289L1504 2288.7L1508.2 2288.6L1512.4 2288.4L1516.5 2288.3L1520.7 2288.3L1524.9 2288.2L1529 2285.1L1533.2 2282.7L1537.4 2280.9L1541.5 2279.5L1545.7 2278.4L1549.9 2277.6L1554 2276.9L1558.2 2276.4L1562.4 2276.1L1566.5 2275.8L1570.7 2276.1L1574.9 2276.3L1579 2276.5L1583.2 2276.7L1587.4 2276.8L1591.5 2276.9L1595.7 2277L1599.9 2277L1604 2277.1L1608.2 2277.1L1612.4 2271.2L1616.5 2266.6L1620.7 2263.1L1624.9 2260.4L1629 2258.3L1633.2 2256.8L1637.4 2255.5L1641.5 2254.6L1645.7 2253.9L1649.9 2253.3L1654 2256.6L1658.2 2259.1L1662.4 2261.1L1666.5 2262.6L1670.7 2263.7L1674.9 2264.6L1679 2265.3L1683.2 2265.8L1687.4 2266.2L1691.5 2266.5L1695.7 2254.9L1699.9 2246L1704 2239.1L1708.2 2233.9L1712.4 2229.8L1716.5 2226.7L1720.7 2224.3L1724.9 2222.5L1729 2221L1733.2 2220L1737.4 2229.6L1741.5 2237L1745.7 2242.8L1749.9 2247.1L1754 2250.5L1758.2 2253.1L1762.4 2255.1L1766.5 2256.6L1770.7 2257.8L1774.9 2258.7L1779 2255L1783.2 2252.2L1787.4 2250L1791.5 2248.3L1795.7 2247.1L1799.9 2246.1L1804 2245.3L1808.2 2244.7L1812.4 2244.3L1816.5 2243.9L1820.7 2237.5L1824.9 2232.6L1829 2228.9L1833.2 2226L1837.4 2223.7L1841.6 2222L1845.7 2220.7L1849.9 2219.7L1854.1 2218.9L1858.2 2218.3L1862.4 2223.7L1866.6 2227.9L1870.7 2231.1L1874.9 2233.6L1879.1 2235.4L1883.2 2236.9L1887.4 2238L1891.6 2238.9L1895.7 2239.5L1899.9 2240L1904.1 2236.3L1908.2 2233.4L1912.4 2231.2L1916.6 2229.5L1920.7 2228.2L1924.9 2227.2L1929.1 2226.4L1933.2 2225.8L1937.4 2225.4L1941.6 2225L1945.7 2223.3L1949.9 2222.1L1954.1 2221.1L1958.2 2220.3L1962.4 2219.7L1966.6 2219.3L1970.7 2218.9L1974.9 2218.7L1979.1 2218.5L1983.2 2218.3L1987.4 2209L1991.6 2201.9L1995.7 2196.4L1999.9 2192.2L2004.1 2189L2008.2 2186.5L2012.4 2184.6L2016.6 2183.1L2020.7 2182L2024.9 2181.1L2029.1 2189.6L2033.2 2196.1L2037.4 2201.1L2041.6 2205L2045.7 2207.9L2049.9 2210.2L2054.1 2212L2058.2 2213.3L2062.4 2214.3L2066.6 2215.1L2070.7 2207.3L2074.9 2201.3L2079.1 2196.7L2083.2 2193.1L2087.4 2190.4L2091.6 2188.3L2095.7 2186.7L2099.9 2185.5L2104.1 2184.5L2108.2 2183.8L2112.4 2181.8L2116.6 2180.3L2120.7 2179.1L2124.9 2178.2L2129.1 2177.6L2133.2 2177L2137.4 2176.6L2141.6 2176.3L2145.7 2176.1L2149.9 2175.9L2154.1 2148.1L2158.2 2126.7L2162.4 2110.3L2166.6 2097.7L2170.7 2088L2174.9 2080.5L2179.1 2074.8L2183.2 2070.4L2187.4 2067L2191.6 2064.4L2195.7 2092.5L2199.9 2114.2L2204.1 2130.8L2208.2 2143.6L2212.4 2153.4L2216.6 2160.9L2220.7 2166.7L2224.9 2171.2L2229.1 2174.6L2233.2 2177.2L2237.4 2181L2241.6 2183.9L2245.7 2186.1L2249.9 2187.8L2254.1 2189.1L2258.2 2190.1L2262.4 2190.9L2266.6 2191.5L2270.7 2192L2274.9 2192.3L2279.1 2197.9L2283.2 2202.2L2287.4 2205.4L2291.6 2208L2295.7 2209.9L2299.9 2211.4L2304.1 2212.5L2308.2 2213.4L2312.4 2214.1L2316.6 2214.6L2320.7 2170.5L2324.9 2134.6L2329.1 2105.5L2333.2 2081.9L2337.4 2062.7L2341.6 2047.1L2345.7 2034.4L2349.9 2024.1L2354.1 2015.8L2358.2 2009L2362.4 2003.5" stroke="#0072BD" stroke-width="12" fill="none" stroke-linejoin="round" stroke-linecap="butt" stroke-dasharray="11.8 9.7"/>
<path d="M283.2 2309.8L287.2 1543.4M299.4 1543.4L299.8 1544.8L304 1548.2L308.2 1551.6L312.3 1555.1L316.5 1558.5L320.7 1563.9L324.8 1584.8L329 1589.1L333.2 1594.5L337.3 1601.3L341.5 1610.1L345.7 1616.2L349.8 1617.3L354 1617.3L358.2 1617.3L362.3 1617.3L366.5 1638.1L370.7 1638.1L374.8 1638.1L379 1638.1L383.2 1638.1L387.3 1638.1L391.5 1638.1L395.7 1638.1L399.8 1638.1L404 1638.1L408.2 1658.3L412.3 1658.3L416.5 1658.3L420.7 1658.3L424.8 1658.3L429 1658.3L433.2 1658.3L437.3 1658.3L441.5 1658.3L445.7 1658.3L449.8 1682.7L454 1682.7L458.2 1682.7L462.3 1682.7L466.5 1682.7L470.7 1682.7L474.8 1682.7L479 1682.7L483.2 1682.7L487.3 1682.7L491.5 1708.7L495.7 1708.7L499.8 1708.7L504 1708.7L508.2 1708.7L512.3 1708.7L516.5 1708.7L520.7 1708.7L524.8 1708.7L529 1708.7L533.2 1733L537.3 1733L541.5 1733L545.7 1733L549.8 1733L554 1733L558.2 1733L562.3 1733L566.5 1733L570.7 1733L574.8 1755.9L579 1755.9L583.2 1755.9L587.3 1755.9L591.5 1755.9L595.7 1755.9L599.8 1755.9L604 1755.9L608.2 1755.9L612.3 1755.9L616.5 1781.8L620.7 1781.8L624.8 1781.8L629 1781.8L633.2 1781.8L637.3 1781.8L641.5 1781.8L645.7 1781.8L649.8 1781.8L654 1781.8L658.2 1804.5L662.3 1804.5L666.5 1804.5L670.7 1804.5L674.8 1804.5L679 1804.5L683.2 1804.5L687.3 1804.5L691.5 1804.5L695.7 1804.5L699.8 1827.2L704 1827.2L708.2 1827.2L712.3 1827.2L716.5 1827.2L720.7 1827.2L724.8 1827.2L729 1827.2L733.2 1827.2L737.3 1827.2L741.5 1856.5L745.7 1856.5L749.8 1856.5L754 1856.5L758.2 1856.5L762.3 1856.5L766.5 1856.5L770.7 1856.5L774.8 1856.5L779 1856.5L783.2 1884.2L787.3 1884.2L791.5 1884.2L795.7 1884.2L799.9 1884.2L804 1884.2L808.2 1884.2L812.4 1884.2L816.5 1884.2L820.7 1884.2L824.9 1911.8L829 1911.8L833.2 1911.8L837.4 1911.8L841.5 1911.8L845.7 1911.8L849.9 1911.8L854 1911.8L858.2 1911.8L862.4 1911.8L866.5 1940.5L870.7 1940.5L874.9 1940.5L879 1940.5L883.2 1940.5L887.4 1940.5L891.5 1940.5L895.7 1940.5L899.9 1940.5L904 1940.5L908.2 1969.8L912.4 1969.8L916.5 1969.8L920.7 1969.8L924.9 1969.8L929 1969.8L933.2 1969.8L937.4 1969.8L941.5 1969.8L945.7 1969.8L949.9 1995.8L954 1995.8L958.2 1995.8L962.4 1995.8L966.5 1995.8L970.7 1995.8L974.9 1995.8L979 1995.8L983.2 1995.8L987.4 1995.8L991.5 2024.4L995.7 2024.4L999.9 2024.4L1004 2024.4L1008.2 2024.4L1012.4 2024.4L1016.5 2024.4L1020.7 2024.4L1024.9 2024.4L1029 2024.4L1033.2 2052.7L1037.4 2052.7L1041.5 2052.7L1045.7 2052.7L1049.9 2052.7L1054 2052.7L1058.2 2052.7L1062.4 2052.7L1066.5 2052.7L1070.7 2052.7L1074.9 2079.6L1079 2079.6L1083.2 2079.6L1087.4 2079.6L1091.5 2079.6L1095.7 2079.6L1099.9 2079.6L1104 2079.6L1108.2 2079.6L1112.4 2079.6L1116.5 2109.5L1120.7 2109.5L1124.9 2109.5L1129 2109.5L1133.2 2109.5L1137.4 2109.5L1141.5 2109.5L1145.7 2109.5L1149.9 2109.5L1154 2109.5L1158.2 2138.4L1162.4 2138.4L1166.5 2138.4L1170.7 2138.4L1174.9 2138.4L1179 2138.4L1183.2 2138.4L1187.4 2138.4L1191.5 2138.4L1195.7 2138.4L1199.9 2165.9L1204 2165.9L1208.2 2165.9L1212.4 2165.9L1216.5 2165.9L1220.7 2165.9L1224.9 2165.9L1229 2165.9L1233.2 2165.9L1237.4 2165.9L1241.5 2234.8L1245.7 2234.8L1249.9 2234.8L1254 2234.8L1258.2 2234.8L1262.4 2234.8L1266.5 2234.8L1270.7 2234.8L1274.9 2234.8L1279 2234.8L1283.2 2226.2L1287.4 2226.2L1291.5 2226.2L1295.7 2226.2L1299.9 2226.2L1304 2226.2L1308.2 2226.2L1312.4 2226.2L1316.5 2226.2L1320.7 2226.2L1324.9 2224.4L1329 2224.4L1333.2 2224.4L1337.4 2224.4L1341.5 2224.4L1345.7 2224.4L1349.9 2224.4L1354 2224.4L1358.2 2224.4L1362.4 2224.4L1366.5 2218.5L1370.7 2218.5L1374.9 2218.5L1379 2218.5L1383.2 2218.5L1387.4 2218.5L1391.5 2218.5L1395.7 2218.5L1399.9 2218.5L1404 2218.5L1408.2 2213.3L1412.4 2213.3L1416.5 2213.3L1420.7 2213.3L1424.9 2213.3L1429 2213.3L1433.2 2213.3L1437.4 2213.3L1441.5 2213.3L1445.7 2213.3L1449.9 2217.6L1454 2217.6L1458.2 2217.6L1462.4 2217.6L1466.5 2217.6L1470.7 2217.6L1474.9 2217.6L1479 2217.6L1483.2 2217.6L1487.4 2217.6L1491.5 2214.9L1495.7 2214.9L1499.9 2214.9L1504 2214.9L1508.2 2214.9L1512.4 2214.9L1516.5 2214.9L1520.7 2214.9L1524.9 2214.9L1529 2214.9L1533.2 2202.6L1537.4 2202.6L1541.5 2202.6L1545.7 2202.6L1549.9 2202.6L1554 2202.6L1558.2 2202.6L1562.4 2202.6L1566.5 2202.6L1570.7 2202.6L1574.9 2204.8L1579 2204.8L1583.2 2204.8L1587.4 2204.8L1591.5 2204.8L1595.7 2204.8L1599.9 2204.8L1604 2204.8L1608.2 2204.8L1612.4 2204.8L1616.5 2181L1620.7 2181L1624.9 2181L1629 2181L1633.2 2181L1637.4 2181L1641.5 2181L1645.7 2181L1649.9 2181L1654 2181L1658.2 2195.9L1662.4 2195.9L1666.5 2195.9L1670.7 2195.9L1674.9 2195.9L1679 2195.9L1683.2 2195.9L1687.4 2195.9L1691.5 2195.9L1695.7 2195.9L1699.9 2148.5L1704 2148.5L1708.2 2148.5L1712.4 2148.5L1716.5 2148.5L1720.7 2148.5L1724.9 2148.5L1729 2148.5L1733.2 2148.5L1737.4 2148.5L1741.5 2190.5L1745.7 2190.5L1749.9 2190.5L1754 2190.5L1758.2 2190.5L1762.4 2190.5L1766.5 2190.5L1770.7 2190.5L1774.9 2190.5L1779 2190.5L1783.2 2173L1787.4 2173L1791.5 2173L1795.7 2173L1799.9 2173L1804 2173L1808.2 2173L1812.4 2173L1816.5 2173L1820.7 2173L1824.9 2148.5L1829 2148.5L1833.2 2148.5L1837.4 2148.5L1841.6 2148.5L1845.7 2148.5L1849.9 2148.5L1854.1 2148.5L1858.2 2148.5L1862.4 2148.5L1866.6 2172L1870.7 2172L1874.9 2172L1879.1 2172L1883.2 2172L1887.4 2172L1891.6 2172L1895.7 2172L1899.9 2172L1904.1 2172L1908.2 2155.5L1912.4 2155.5L1916.6 2155.5L1920.7 2155.5L1924.9 2155.5L1929.1 2155.5L1933.2 2155.5L1937.4 2155.5L1941.6 2155.5L1945.7 2155.5L1949.9 2149.8L1954.1 2149.8L1958.2 2149.8L1962.4 2149.8L1966.6 2149.8L1970.7 2149.8L1974.9 2149.8L1979.1 2149.8L1983.2 2149.8L1987.4 2149.8L1991.6 2113.2L1995.7 2113.2L1999.9 2113.2L2004.1 2113.2L2008.2 2113.2L2012.4 2113.2L2016.6 2113.2L2020.7 2113.2L2024.9 2113.2L2029.1 2113.2L2033.2 2149.8L2037.4 2149.8L2041.6 2149.8L2045.7 2149.8L2049.9 2149.8L2054.1 2149.8L2058.2 2149.8L2062.4 2149.8L2066.6 2149.8L2070.7 2149.8L2074.9 2116.1L2079.1 2116.1L2083.2 2116.1L2087.4 2116.1L2091.6 2116.1L2095.7 2116.1L2099.9 2116.1L2104.1 2116.1L2108.2 2116.1L2112.4 2116.1L2116.6 2110.5L2120.7 2110.5L2124.9 2110.5L2129.1 2110.5L2133.2 2110.5L2137.4 2110.5L2141.6 2110.5L2145.7 2110.5L2149.9 2110.5L2154.1 2110.5L2158.2 1999.8L2162.4 1999.8L2166.6 1999.8L2170.7 1999.8L2174.9 1999.8L2179.1 1999.8L2183.2 1999.8L2187.4 1999.8L2191.6 1999.8L2195.7 1999.8L2199.9 2120.4L2204.1 2120.4L2208.2 2120.4L2212.4 2120.4L2216.6 2120.4L2220.7 2120.4L2224.9 2120.4L2229.1 2120.4L2233.2 2120.4L2237.4 2120.4L2241.6 2127.4L2245.7 2127.4L2249.9 2127.4L2254.1 2127.4L2258.2 2127.4L2262.4 2127.4L2266.6 2127.4L2270.7 2127.4L2274.9 2127.4L2279.1 2127.4L2283.2 2148.5L2287.4 2148.5L2291.6 2148.5L2295.7 2148.5L2299.9 2148.5L2304.1 2148.5L2308.2 2148.5L2312.4 2148.5L2316.6 2148.5L2320.7 2148.5L2324.9 1929.5L2329.1 1929.5L2333.2 1929.5L2337.4 1929.5L2341.6 1929.5L2345.7 1929.5L2349.9 1929.5L2354.1 1929.5L2358.2 1929.5L2362.4 1929.5" stroke="#7E2F8E" stroke-width="8.5" fill="none" stroke-linejoin="round" stroke-linecap="butt"/>
<path d="M279 1695.1L283.2 1695.1L287.3 1695.1L291.5 1695.1L295.7 1695.1L299.8 1695.1L304 1695.1L308.2 1695.1L312.3 1695.1L316.5 1695.1L320.7 1695.1L324.8 1713L329 1713L333.2 1713L337.3 1713L341.5 1713L345.7 1713L349.8 1713L354 1713L358.2 1713L362.3 1713L366.5 1731.8L370.7 1731.8L374.8 1731.8L379 1731.8L383.2 1731.8L387.3 1731.8L391.5 1731.8L395.7 1731.8L399.8 1731.8L404 1731.8L408.2 1752L412.3 1752L416.5 1752L420.7 1752L424.8 1752L429 1752L433.2 1752L437.3 1752L441.5 1752L445.7 1752L449.8 1776.4L454 1776.4L458.2 1776.4L462.3 1776.4L466.5 1776.4L470.7 1776.4L474.8 1776.4L479 1776.4L483.2 1776.4L487.3 1776.4L491.5 1802.4L495.7 1802.4L499.8 1802.4L504 1802.4L508.2 1802.4L512.3 1802.4L516.5 1802.4L520.7 1802.4L524.8 1802.4L529 1802.4L533.2 1826.7L537.3 1826.7L541.5 1826.7L545.7 1826.7L549.8 1826.7L554 1826.7L558.2 1826.7L562.3 1826.7L566.5 1826.7L570.7 1826.7L574.8 1849.6L579 1849.6L583.2 1849.6L587.3 1849.6L591.5 1849.6L595.7 1849.6L599.8 1849.6L604 1849.6L608.2 1849.6L612.3 1849.6L616.5 1875.5L620.7 1875.5L624.8 1875.5L629 1875.5L633.2 1875.5L637.3 1875.5L641.5 1875.5L645.7 1875.5L649.8 1875.5L654 1875.5L658.2 1898.2L662.3 1898.2L666.5 1898.2L670.7 1898.2L674.8 1898.2L679 1898.2L683.2 1898.2L687.3 1898.2L691.5 1898.2L695.7 1898.2L699.8 1920.9L704 1920.9L708.2 1920.9L712.3 1920.9L716.5 1920.9L720.7 1920.9L724.8 1920.9L729 1920.9L733.2 1920.9L737.3 1920.9L741.5 1950.2L745.7 1950.2L749.8 1950.2L754 1950.2L758.2 1950.2L762.3 1950.2L766.5 1950.2L770.7 1950.2L774.8 1950.2L779 1950.2L783.2 1977.9L787.3 1977.9L791.5 1977.9L795.7 1977.9L799.9 1977.9L804 1977.9L808.2 1977.9L812.4 1977.9L816.5 1977.9L820.7 1977.9L824.9 2005.5L829 2005.5L833.2 2005.5L837.4 2005.5L841.5 2005.5L845.7 2005.5L849.9 2005.5L854 2005.5L858.2 2005.5L862.4 2005.5L866.5 2034.2L870.7 2034L874.9 2033.8L879 2033.5L883.2 2033.3L887.4 2033.1L891.5 2032.9L895.7 2032.7L899.9 2032.4L904 2032.2L908.2 2061.3L912.4 2061.1L916.5 2060.9L920.7 2060.7L924.9 2060.4L929 2060.2L933.2 2060L937.4 2059.8L941.5 2059.6L945.7 2059.3L949.9 2085.1L954 2084.9L958.2 2084.7L962.4 2084.5L966.5 2084.3L970.7 2084L974.9 2083.8L979 2083.6L983.2 2083.4L987.4 2083.1L991.5 2111.5L995.7 2111.3L999.9 2111L1004 2110.8L1008.2 2110.6L1012.4 2110.4L1016.5 2110.2L1020.7 2109.9L1024.9 2109.7L1029 2109.5L1033.2 2137.6L1037.4 2137.4L1041.5 2137.2L1045.7 2136.9L1049.9 2136.7L1054 2136.5L1058.2 2136.3L1062.4 2136.1L1066.5 2135.8L1070.7 2135.6L1074.9 2162.3L1079 2162.1L1083.2 2161.9L1087.4 2161.6L1091.5 2161.4L1095.7 2161.2L1099.9 2161L1104 2160.8L1108.2 2160.5L1112.4 2160.3L1116.5 2190L1120.7 2189.5L1124.9 2189.1L1129 2188.6L1133.2 2188.2L1137.4 2187.8L1141.5 2187.3L1145.7 2186.9L1149.9 2186.4L1154 2186L1158.2 2214.4L1162.4 2214L1166.5 2213.6L1170.7 2213.1L1174.9 2212.7L1179 2212.2L1183.2 2211.8L1187.4 2211.4L1191.5 2210.9L1195.7 2210.5L1199.9 2237.6L1204 2237.1L1208.2 2236.7L1212.4 2236.3L1216.5 2235.8L1220.7 2235.4L1224.9 2234.9L1229 2234.5L1233.2 2234.1L1237.4 2233.6L1241.5 2304.3L1245.7 2304.3L1249.9 2304.3L1254 2304.3L1258.2 2304.3L1262.4 2304.3L1266.5 2304.3L1270.7 2304.3L1274.9 2304.3L1279 2304.3L1283.2 2296L1287.4 2296L1291.5 2296L1295.7 2296L1299.9 2296L1304 2296L1308.2 2296L1312.4 2296L1316.5 2296L1320.7 2296L1324.9 2294.3L1329 2294.3L1333.2 2294.3L1337.4 2294.3L1341.5 2294.3L1345.7 2294.3L1349.9 2294.3L1354 2294.3L1358.2 2294.3L1362.4 2294.3L1366.5 2289L1370.7 2289L1374.9 2289L1379 2289L1383.2 2289L1387.4 2289L1391.5 2289L1395.7 2289L1399.9 2289L1404 2289L1408.2 2284.4L1412.4 2284.4L1416.5 2284.4L1420.7 2284.4L1424.9 2284.4L1429 2284.4L1433.2 2284.4L1437.4 2284.4L1441.5 2284.4L1445.7 2284.4L1449.9 2288.2L1454 2288.2L1458.2 2288.2L1462.4 2288.2L1466.5 2288.2L1470.7 2288.2L1474.9 2288.2L1479 2288.2L1483.2 2288.2L1487.4 2288.2L1491.5 2285.8L1495.7 2285.8L1499.9 2285.8L1504 2285.8L1508.2 2285.8L1512.4 2285.8L1516.5 2285.8L1520.7 2285.8L1524.9 2285.8L1529 2285.8L1533.2 2274.8L1537.4 2274.8L1541.5 2274.8L1545.7 2274.8L1549.9 2274.8L1554 2274.8L1558.2 2274.8L1562.4 2274.8L1566.5 2274.8L1570.7 2274.8L1574.9 2276.7L1579 2276.7L1583.2 2276.7L1587.4 2276.7L1591.5 2276.7L1595.7 2276.7L1599.9 2276.7L1604 2276.7L1608.2 2276.7L1612.4 2276.7L1616.5 2255.3L1620.7 2255.3L1624.9 2255.3L1629 2255.3L1633.2 2255.3L1637.4 2255.3L1641.5 2255.3L1645.7 2255.3L1649.9 2255.3L1654 2255.3L1658.2 2268.7L1662.4 2268.7L1666.5 2268.7L1670.7 2268.7L1674.9 2268.7L1679 2268.7L1683.2 2268.7L1687.4 2268.7L1691.5 2268.7L1695.7 2268.7L1699.9 2226L1704 2226L1708.2 2226L1712.4 2226L1716.5 2226L1720.7 2226L1724.9 2226L1729 2226L1733.2 2226L1737.4 2226L1741.5 2263.8L1745.7 2263.8L1749.9 2263.8L1754 2263.8L1758.2 2263.8L1762.4 2263.8L1766.5 2263.8L1770.7 2263.8L1774.9 2263.8L1779 2263.8L1783.2 2248.1L1787.4 2248.1L1791.5 2248.1L1795.7 2248.1L1799.9 2248.1L1804 2248.1L1808.2 2248.1L1812.4 2248.1L1816.5 2248.1L1820.7 2248.1L1824.9 2226L1829 2226L1833.2 2226L1837.4 2226L1841.6 2226L1845.7 2226L1849.9 2226L1854.1 2226L1858.2 2226L1862.4 2226L1866.6 2247.2L1870.7 2247.2L1874.9 2247.2L1879.1 2247.2L1883.2 2247.2L1887.4 2247.2L1891.6 2247.2L1895.7 2247.2L1899.9 2247.2L1904.1 2247.2L1908.2 2232.3L1912.4 2232.3L1916.6 2232.3L1920.7 2232.3L1924.9 2232.3L1929.1 2232.3L1933.2 2232.3L1937.4 2232.3L1941.6 2232.3L1945.7 2232.3L1949.9 2227.2L1954.1 2227.2L1958.2 2227.2L1962.4 2227.2L1966.6 2227.2L1970.7 2227.2L1974.9 2227.2L1979.1 2227.2L1983.2 2227.2L1987.4 2227.2L1991.6 2194.3L1995.7 2194.3L1999.9 2194.3L2004.1 2194.3L2008.2 2194.3L2012.4 2194.3L2016.6 2194.3L2020.7 2194.3L2024.9 2194.3L2029.1 2194.3L2033.2 2227.2L2037.4 2227.2L2041.6 2227.2L2045.7 2227.2L2049.9 2227.2L2054.1 2227.2L2058.2 2227.2L2062.4 2227.2L2066.6 2227.2L2070.7 2227.2L2074.9 2196.9L2079.1 2196.9L2083.2 2196.9L2087.4 2196.9L2091.6 2196.9L2095.7 2196.9L2099.9 2196.9L2104.1 2196.9L2108.2 2196.9L2112.4 2196.9L2116.6 2191.8L2120.7 2191.8L2124.9 2191.8L2129.1 2191.8L2133.2 2191.8L2137.4 2191.8L2141.6 2191.8L2145.7 2191.8L2149.9 2191.8L2154.1 2191.8L2158.2 2092.2L2162.4 2092.2L2166.6 2092.2L2170.7 2092.2L2174.9 2092.2L2179.1 2092.2L2183.2 2092.2L2187.4 2092.2L2191.6 2092.2L2195.7 2092.2L2199.9 2200.7L2204.1 2200.7L2208.2 2200.7L2212.4 2200.7L2216.6 2200.7L2220.7 2200.7L2224.9 2200.7L2229.1 2200.7L2233.2 2200.7L2237.4 2200.7L2241.6 2207L2245.7 2207L2249.9 2207L2254.1 2207L2258.2 2207L2262.4 2207L2266.6 2207L2270.7 2207L2274.9 2207L2279.1 2207L2283.2 2226L2287.4 2226L2291.6 2226L2295.7 2226L2299.9 2226L2304.1 2226L2308.2 2226L2312.4 2226L2316.6 2226L2320.7 2226L2324.9 2028.9L2329.1 2028.9L2333.2 2028.9L2337.4 2028.9L2341.6 2028.9L2345.7 2028.9L2349.9 2028.9L2354.1 2028.9L2358.2 2028.9L2362.4 2028.9" stroke="#808080" stroke-width="8" fill="none" stroke-linejoin="round" stroke-linecap="butt" stroke-dasharray="55 31"/>
<path d="M279 1632.3L283.2 1632.3L287.3 1632.3L291.5 1632.3L295.7 1632.3L299.8 1632.3L304 1632.3L308.2 1632.3L312.3 1632.3L316.5 1632.3L320.7 1650.2L324.8 1650.2L329 1650.2L333.2 1650.2L337.3 1650.2L341.5 1650.2L345.7 1650.2L349.8 1650.2L354 1650.2L358.2 1650.2L362.3 1669L366.5 1669L370.7 1669L374.8 1669L379 1669L383.2 1669L387.3 1669L391.5 1669L395.7 1669L399.8 1669L404 1689.2L408.2 1689.2L412.3 1689.2L416.5 1689.2L420.7 1689.2L424.8 1689.2L429 1689.2L433.2 1689.2L437.3 1689.2L441.5 1689.2L445.7 1713.5L449.8 1713.5L454 1713.5L458.2 1713.5L462.3 1713.5L466.5 1713.5L470.7 1713.5L474.8 1713.5L479 1713.5L483.2 1713.5L487.3 1739.6L491.5 1739.6L495.7 1739.6L499.8 1739.6L504 1739.6L508.2 1739.6L512.3 1739.6L516.5 1739.6L520.7 1739.6L524.8 1739.6L529 1763.9L533.2 1763.9L537.3 1763.9L541.5 1763.9L545.7 1763.9L549.8 1763.9L554 1763.9L558.2 1763.9L562.3 1763.9L566.5 1763.9L570.7 1786.7L574.8 1786.7L579 1786.7L583.2 1786.7L587.3 1786.7L591.5 1786.7L595.7 1786.7L599.8 1786.7L604 1786.7L608.2 1786.7L612.3 1812.6L616.5 1812.6L620.7 1812.6L624.8 1812.6L629 1812.6L633.2 1812.6L637.3 1812.6L641.5 1812.6L645.7 1812.6L649.8 1812.6L654 1835.3L658.2 1835.3L662.3 1835.3L666.5 1835.3L670.7 1835.3L674.8 1835.3L679 1835.3L683.2 1835.3L687.3 1835.3L691.5 1835.3L695.7 1858.1L699.8 1858.1L704 1858.1L708.2 1858.1L712.3 1858.1L716.5 1858.1L720.7 1858.1L724.8 1858.1L729 1858.1L733.2 1858.1L737.3 1887.4L741.5 1887.4L745.7 1887.4L749.8 1887.4L754 1887.4L758.2 1887.4L762.3 1887.4L766.5 1887.4L770.7 1887.4L774.8 1887.4L779 1915L783.2 1915L787.3 1915L791.5 1915L795.7 1915L799.9 1915L804 1915L808.2 1915L812.4 1915L816.5 1915L820.7 1942.7L824.9 1942.7L829 1942.7L833.2 1942.7L837.4 1942.7L841.5 1942.7L845.7 1942.7L849.9 1942.7L854 1942.7L858.2 1942.7L862.4 1971.4L866.5 1971.4L870.7 1971.4L874.9 1971.4L879 1971.4L883.2 1971.4L887.4 1971.4L891.5 1971.4L895.7 1971.4L899.9 1971.4L904 2000.7L908.2 2000.7L912.4 2000.7L916.5 2000.7L920.7 2000.7L924.9 2000.7L929 2000.7L933.2 2000.7L937.4 2000.7L941.5 2000.7L945.7 2026.7L949.9 2026.7L954 2026.7L958.2 2026.7L962.4 2026.7L966.5 2026.7L970.7 2026.7L974.9 2026.7L979 2026.7L983.2 2026.7L987.4 2055.3L991.5 2055.3L995.7 2055.3L999.9 2055.3L1004 2055.3L1008.2 2055.3L1012.4 2055.3L1016.5 2055.3L1020.7 2055.3L1024.9 2055.3L1029 2083.6L1033.2 2083.6L1037.4 2083.6L1041.5 2083.6L1045.7 2083.6L1049.9 2083.6L1054 2083.6L1058.2 2083.6L1062.4 2083.6L1066.5 2083.6L1070.7 2110.5L1074.9 2110.5L1079 2110.5L1083.2 2110.5L1087.4 2110.5L1091.5 2110.5L1095.7 2110.5L1099.9 2110.5L1104 2110.5L1108.2 2110.5L1112.4 2140.4L1116.5 2140.4L1120.7 2140.4L1124.9 2140.4L1129 2140.4L1133.2 2140.4L1137.4 2140.4L1141.5 2140.4L1145.7 2140.4L1149.9 2140.4L1154 2169.2L1158.2 2169.2L1162.4 2169.2L1166.5 2169.2L1170.7 2169.2L1174.9 2169.2L1179 2169.2L1183.2 2169.2L1187.4 2169.2L1191.5 2169.2L1195.7 2196.8L1199.9 2196.8L1204 2196.8L1208.2 2196.8L1212.4 2196.8L1216.5 2196.8L1220.7 2196.8L1224.9 2196.8L1229 2196.8L1233.2 2196.8L1237.4 2255.8L1241.5 2255.8L1245.7 2255.8L1249.9 2255.8L1254 2255.8L1258.2 2255.8L1262.4 2255.8L1266.5 2255.8L1270.7 2255.8L1274.9 2255.8L1279 2290.2L1283.2 2290.2L1287.4 2290.2L1291.5 2290.2L1295.7 2290.2L1299.9 2290.2L1304 2290.2L1308.2 2290.2L1312.4 2290.2L1316.5 2290.2L1320.7 2288.3L1324.9 2288.3L1329 2288.3L1333.2 2288.3L1337.4 2288.3L1341.5 2288.3L1345.7 2288.3L1349.9 2288.3L1354 2288.3L1358.2 2288.3L1362.4 2282.5L1366.5 2282.5L1370.7 2282.5L1374.9 2282.5L1379 2282.5L1383.2 2282.5L1387.4 2282.5L1391.5 2282.5L1395.7 2282.5L1399.9 2282.5L1404 2277.3L1408.2 2277.3L1412.4 2277.3L1416.5 2277.3L1420.7 2277.3L1424.9 2277.3L1429 2277.3L1433.2 2277.3L1437.4 2277.3L1441.5 2277.3L1445.7 2281.6L1449.9 2281.6L1454 2281.6L1458.2 2281.6L1462.4 2281.6L1466.5 2281.6L1470.7 2281.6L1474.9 2281.6L1479 2281.6L1483.2 2281.6L1487.4 2278.8L1491.5 2278.8L1495.7 2278.8L1499.9 2278.8L1504 2278.8L1508.2 2278.8L1512.4 2278.8L1516.5 2278.8L1520.7 2278.8L1524.9 2278.8L1529 2266.6L1533.2 2266.6L1537.4 2266.6L1541.5 2266.6L1545.7 2266.6L1549.9 2266.6L1554 2266.6L1558.2 2266.6L1562.4 2266.6L1566.5 2266.6L1570.7 2268.8L1574.9 2268.8L1579 2268.8L1583.2 2268.8L1587.4 2268.8L1591.5 2268.8L1595.7 2268.8L1599.9 2268.8L1604 2268.8L1608.2 2268.8L1612.4 2245L1616.5 2245L1620.7 2245L1624.9 2245L1629 2245L1633.2 2245L1637.4 2245L1641.5 2245L1645.7 2245L1649.9 2245L1654 2259.9L1658.2 2259.9L1662.4 2259.9L1666.5 2259.9L1670.7 2259.9L1674.9 2259.9L1679 2259.9L1683.2 2259.9L1687.4 2259.9L1691.5 2259.9L1695.7 2212.5L1699.9 2212.5L1704 2212.5L1708.2 2212.5L1712.4 2212.5L1716.5 2212.5L1720.7 2212.5L1724.9 2212.5L1729 2212.5L1733.2 2212.5L1737.4 2254.5L1741.5 2254.5L1745.7 2254.5L1749.9 2254.5L1754 2254.5L1758.2 2254.5L1762.4 2254.5L1766.5 2254.5L1770.7 2254.5L1774.9 2254.5L1779 2236.9L1783.2 2236.9L1787.4 2236.9L1791.5 2236.9L1795.7 2236.9L1799.9 2236.9L1804 2236.9L1808.2 2236.9L1812.4 2236.9L1816.5 2236.9L1820.7 2212.5L1824.9 2212.5L1829 2212.5L1833.2 2212.5L1837.4 2212.5L1841.6 2212.5L1845.7 2212.5L1849.9 2212.5L1854.1 2212.5L1858.2 2212.5L1862.4 2235.9L1866.6 2235.9L1870.7 2235.9L1874.9 2235.9L1879.1 2235.9L1883.2 2235.9L1887.4 2235.9L1891.6 2235.9L1895.7 2235.9L1899.9 2235.9L1904.1 2219.4L1908.2 2219.4L1912.4 2219.4L1916.6 2219.4L1920.7 2219.4L1924.9 2219.4L1929.1 2219.4L1933.2 2219.4L1937.4 2219.4L1941.6 2219.4L1945.7 2213.8L1949.9 2213.8L1954.1 2213.8L1958.2 2213.8L1962.4 2213.8L1966.6 2213.8L1970.7 2213.8L1974.9 2213.8L1979.1 2213.8L1983.2 2213.8L1987.4 2177.2L1991.6 2177.2L1995.7 2177.2L1999.9 2177.2L2004.1 2177.2L2008.2 2177.2L2012.4 2177.2L2016.6 2177.2L2020.7 2177.2L2024.9 2177.2L2029.1 2213.8L2033.2 2213.8L2037.4 2213.8L2041.6 2213.8L2045.7 2213.8L2049.9 2213.8L2054.1 2213.8L2058.2 2213.8L2062.4 2213.8L2066.6 2213.8L2070.7 2180L2074.9 2180L2079.1 2180L2083.2 2180L2087.4 2180L2091.6 2180L2095.7 2180L2099.9 2180L2104.1 2180L2108.2 2180L2112.4 2174.4L2116.6 2174.4L2120.7 2174.4L2124.9 2174.4L2129.1 2174.4L2133.2 2174.4L2137.4 2174.4L2141.6 2174.4L2145.7 2174.4L2149.9 2174.4L2154.1 2063.7L2158.2 2063.7L2162.4 2063.7L2166.6 2063.7L2170.7 2063.7L2174.9 2063.7L2179.1 2063.7L2183.2 2063.7L2187.4 2063.7L2191.6 2063.7L2195.7 2184.3L2199.9 2184.3L2204.1 2184.3L2208.2 2184.3L2212.4 2184.3L2216.6 2184.3L2220.7 2184.3L2224.9 2184.3L2229.1 2184.3L2233.2 2184.3L2237.4 2191.3L2241.6 2191.3L2245.7 2191.3L2249.9 2191.3L2254.1 2191.3L2258.2 2191.3L2262.4 2191.3L2266.6 2191.3L2270.7 2191.3L2274.9 2191.3L2279.1 2212.5L2283.2 2212.5L2287.4 2212.5L2291.6 2212.5L2295.7 2212.5L2299.9 2212.5L2304.1 2212.5L2308.2 2212.5L2312.4 2212.5L2316.6 2212.5L2320.7 1993.4L2324.9 1993.4L2329.1 1993.4L2333.2 1993.4L2337.4 1993.4L2341.6 1993.4L2345.7 1993.4L2349.9 1993.4L2354.1 1993.4L2358.2 1993.4L2362.4 1993.4" stroke="#77AC30" stroke-width="8.5" fill="none" stroke-linejoin="round" stroke-linecap="butt"/>
<rect x="1663.2" y="1543.6" width="699.2" height="460.8" fill="#fff" stroke="#262626" stroke-width="6"/>
<line x1="1693.5" y1="1600.6" x2="2016.5" y2="1600.6" stroke="#0072BD" stroke-width="8.8"/>
<line x1="1693.5" y1="1687.5" x2="2016.5" y2="1687.5" stroke="#0072BD" stroke-width="12" stroke-dasharray="11.8 9.7"/>
<line x1="1693.5" y1="1773.5" x2="2016.5" y2="1773.5" stroke="#7E2F8E" stroke-width="8.8"/>
<line x1="1693.5" y1="1859.9" x2="2016.5" y2="1859.9" stroke="#808080" stroke-width="8" stroke-dasharray="55 31"/>
<line x1="1693.5" y1="1947.1" x2="2016.5" y2="1947.1" stroke="#77AC30" stroke-width="9"/>
<g font-family="'Liberation Serif', serif" fill="#262626">
<text x="253" y="1101.9" font-size="77" text-anchor="end">0</text>
<text x="253" y="760.9" font-size="77" text-anchor="end">50</text>
<text x="253" y="419.9" font-size="77" text-anchor="end">100</text>
<text x="253" y="78.9" font-size="77" text-anchor="end">150</text>
<text x="474.9" y="1164.5" font-size="77" text-anchor="middle">50</text>
<text x="684.5" y="1164.5" font-size="77" text-anchor="middle">100</text>
<text x="894.2" y="1164.5" font-size="77" text-anchor="middle">150</text>
<text x="1103.8" y="1164.5" font-size="77" text-anchor="middle">200</text>
<text x="1313.5" y="1164.5" font-size="77" text-anchor="middle">250</text>
<text x="1523.1" y="1164.5" font-size="77" text-anchor="middle">300</text>
<text x="1732.8" y="1164.5" font-size="77" text-anchor="middle">350</text>
<text x="1942.4" y="1164.5" font-size="77" text-anchor="middle">400</text>
<text x="2152.1" y="1164.5" font-size="77" text-anchor="middle">450</text>
<text x="2361.7" y="1164.5" font-size="77" text-anchor="middle">500</text>
<text transform="translate(95.9 759.8) rotate(-90)" font-size="88" textLength="380" lengthAdjust="spacingAndGlyphs">Power [W]</text>
<text x="1006.2" y="1267.6" font-size="88" textLength="617.6" lengthAdjust="spacingAndGlyphs">Discrete time [<tspan font-style="italic">k</tspan>]</text>
<text x="1202.5" y="759" font-size="67" text-anchor="end">9.4</text>
<text x="1202.5" y="589.9" font-size="67" text-anchor="end">9.6</text>
<text x="1202.5" y="420.9" font-size="67" text-anchor="end">9.8</text>
<text x="1214.6" y="811.5" font-size="67" text-anchor="middle">330</text>
<text x="1414.4" y="811.5" font-size="67" text-anchor="middle">335</text>
<text x="1614.2" y="811.5" font-size="67" text-anchor="middle">340</text>
<text x="263.5" y="2334.8" font-size="77" text-anchor="end">0</text>
<text x="263.5" y="2114.3" font-size="77" text-anchor="end">200</text>
<text x="263.5" y="1893.9" font-size="77" text-anchor="end">400</text>
<text x="263.5" y="1673.4" font-size="77" text-anchor="end">600</text>
<text x="279" y="2396.5" font-size="77" text-anchor="middle">0</text>
<text x="695.7" y="2396.5" font-size="77" text-anchor="middle">100</text>
<text x="1112.4" y="2396.5" font-size="77" text-anchor="middle">200</text>
<text x="1529" y="2396.5" font-size="77" text-anchor="middle">300</text>
<text x="1945.7" y="2396.5" font-size="77" text-anchor="middle">400</text>
<text x="2362.4" y="2396.5" font-size="77" text-anchor="middle">500</text>
<text transform="translate(107.5 2273.6) rotate(-90)" font-size="88" textLength="684.6" lengthAdjust="spacingAndGlyphs">Irradiance [W/m<tspan font-size="60" dy="-30">2</tspan><tspan dy="30">]</tspan></text>
<text x="1012.2" y="2493" font-size="88" textLength="615.4" lengthAdjust="spacingAndGlyphs">Discrete time [<tspan font-style="italic">k</tspan>]</text>
</g>
<g font-family="'Liberation Serif', serif" fill="#000">
<text x="1952.8" y="135" font-size="72.5" textLength="259.2" lengthAdjust="spacingAndGlyphs" fill="#000">NMPPT</text>
<text x="2216" y="144.5" font-size="50" fill="#000" font-style="italic">e</text>
<text x="1952.8" y="223" font-size="72.5" textLength="259.2" lengthAdjust="spacingAndGlyphs" fill="#000">NMPPT</text>
<text x="2216" y="232.5" font-size="50" fill="#000" font-style="italic">s</text>
<text x="1952.8" y="311" font-size="72.5" textLength="155.3" lengthAdjust="spacingAndGlyphs" fill="#000">P&amp;O</text>
<text x="1952.8" y="399" font-size="72.5" textLength="255.9" lengthAdjust="spacingAndGlyphs" fill="#000">EMPPT</text>
<text x="1953" y="487" font-size="72.5" textLength="361" lengthAdjust="spacingAndGlyphs" fill="#000">CNNMPPT</text>
<text x="1954.8" y="575" font-size="72.5" fill="#000" font-style="italic">P</text>
<text x="1998" y="584" font-size="50" textLength="91.6" lengthAdjust="spacingAndGlyphs" fill="#000">max</text>
<text x="2039.4" y="1618.8" font-size="72.5" textLength="152.8" lengthAdjust="spacingAndGlyphs" fill="#000">NI&amp;I</text>
<text x="2196" y="1628.3" font-size="50" fill="#000" font-style="italic">e</text>
<text x="2039.4" y="1705.2" font-size="72.5" textLength="152.8" lengthAdjust="spacingAndGlyphs" fill="#000">NI&amp;I</text>
<text x="2196" y="1714.7" font-size="50" fill="#000" font-style="italic">s</text>
<text x="2039.2" y="1791.6" font-size="72.5" textLength="180" lengthAdjust="spacingAndGlyphs" fill="#000">EEST</text>
<text x="2040" y="1878" font-size="72.5" textLength="286" lengthAdjust="spacingAndGlyphs" fill="#000">CNNEST</text>
<text x="2040" y="1963.6" font-size="72.5" fill="#000" font-style="italic">G</text>
<text x="564.4" y="1406.7" font-size="79" textLength="83.5" lengthAdjust="spacingAndGlyphs">(<tspan font-weight="bold">a</tspan>)</text>
<text x="666.5" y="1406.7" font-size="79" textLength="1220.1" lengthAdjust="spacingAndGlyphs">Comparison of the MPPT algorithms</text>
<text x="503.2" y="2633.3" font-size="79" textLength="92.5" lengthAdjust="spacingAndGlyphs">(<tspan font-weight="bold">b</tspan>)</text>
<text x="614.4" y="2633.3" font-size="79" textLength="1333.4" lengthAdjust="spacingAndGlyphs">Comparison of the irradiance estimators</text>
</g>
</svg>
</body></html>
